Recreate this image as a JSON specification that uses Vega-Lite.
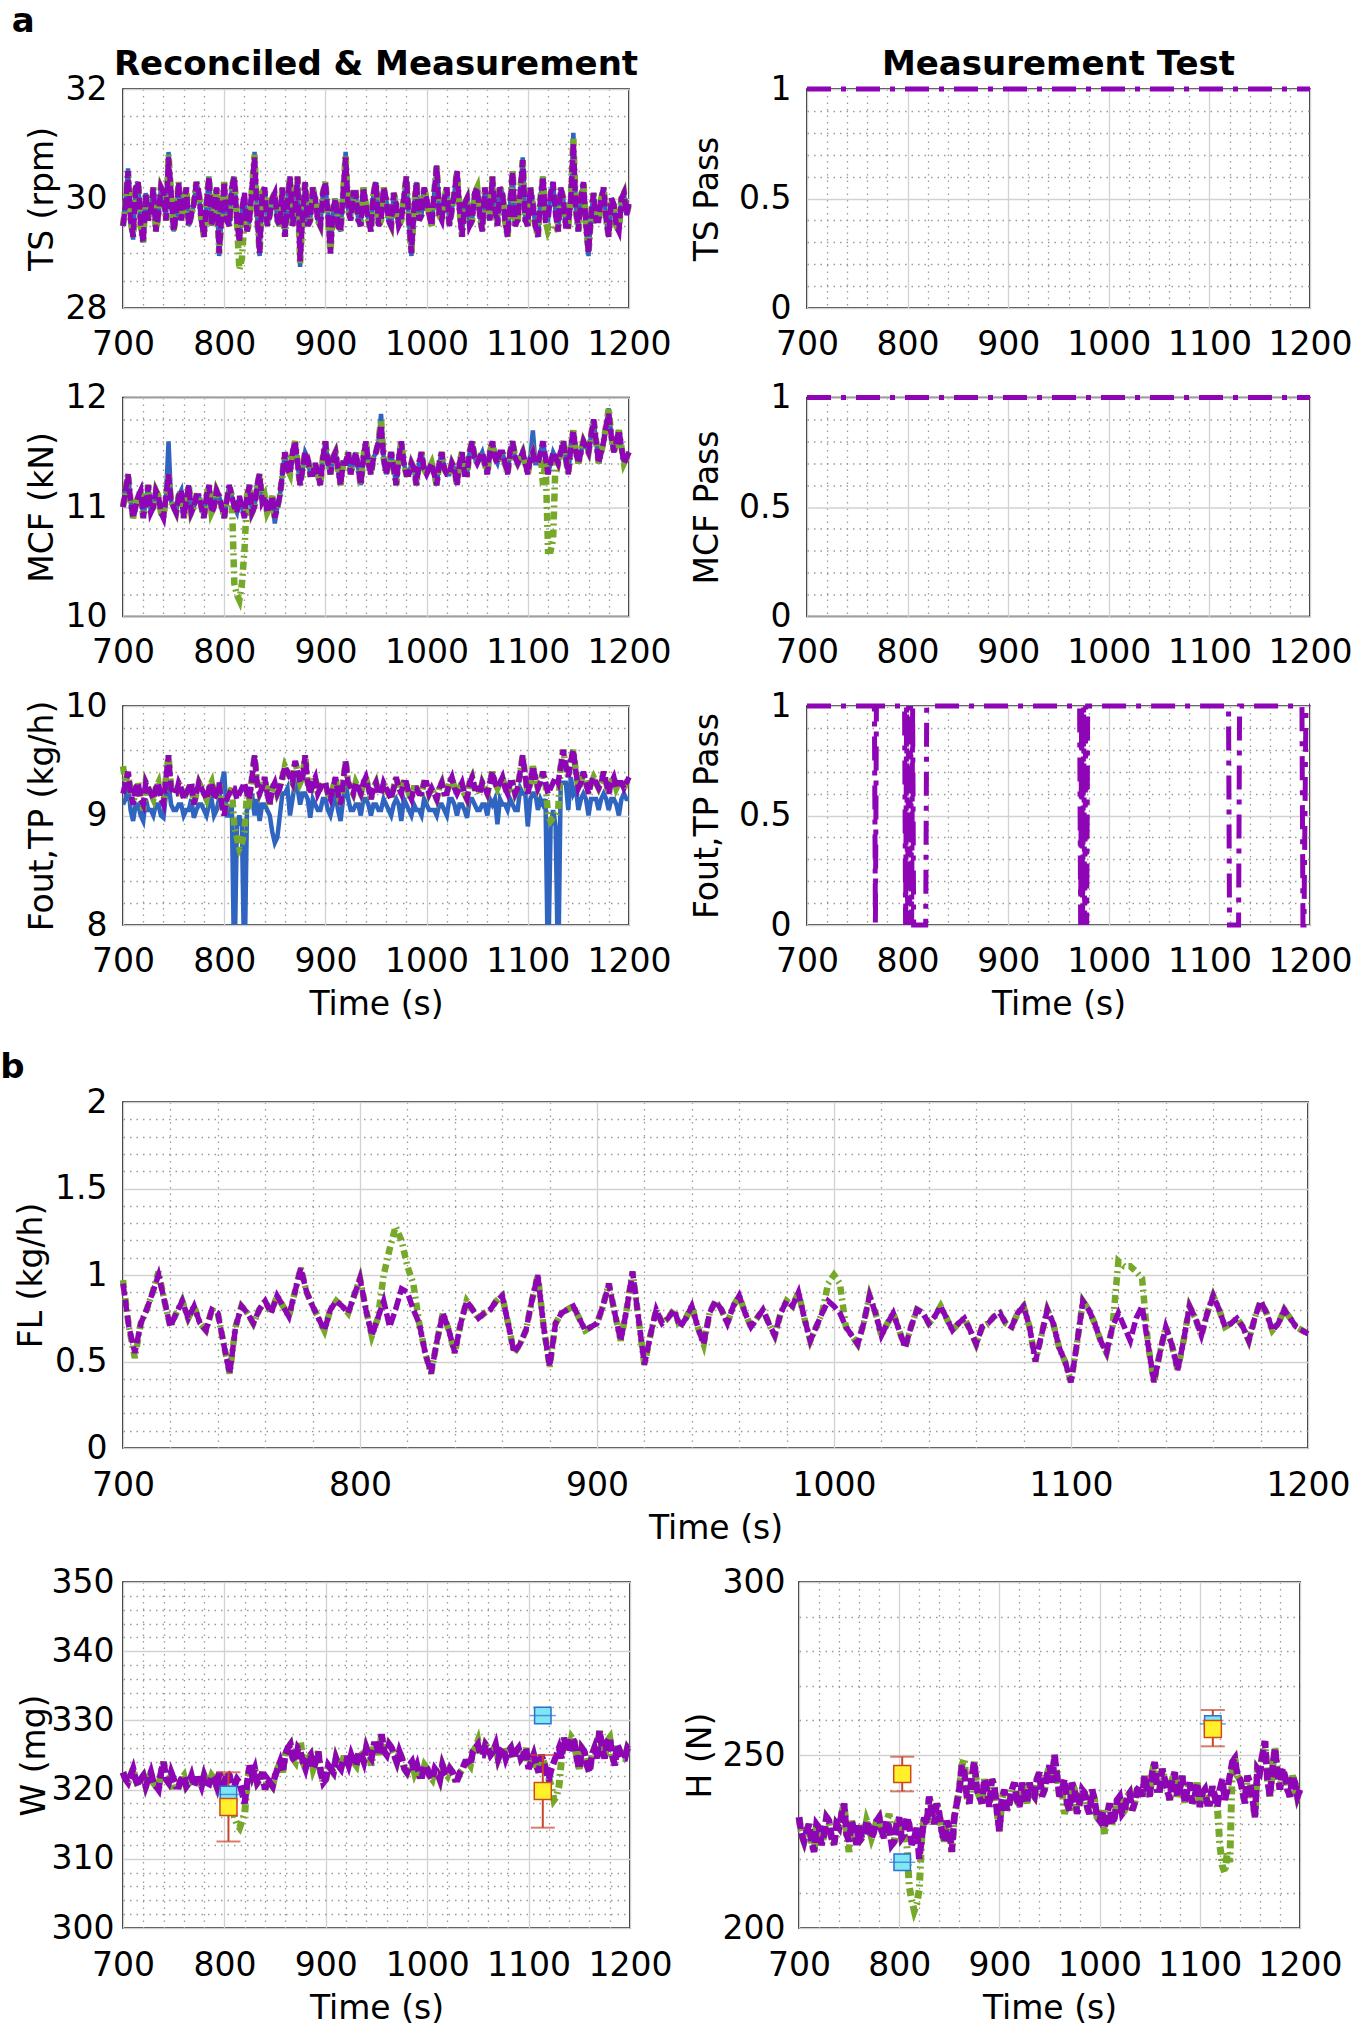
{
"$schema": "https://vega.github.io/schema/vega-lite/v6.json",
"padding": {"left": 0, "top": 4, "right": 0, "bottom": 0},
"spacing": 29,
"datasets": {
"ts": [
{"t":700,"m":29.5,"g":29.5,"r":29.5},{"t":705,"m":30.55,"g":30.5,"r":30.5},{"t":710,"m":29.25,"g":29.3,"r":29.3},{"t":715,"m":30.3,"g":30.3,"r":30.3},{"t":720,"m":29.2,"g":29.2,"r":29.2},{"t":725,"m":29.6,"g":29.6,"r":29.6},{"t":730,"m":30.2,"g":30.2,"r":30.2},{"t":735,"m":29.7,"g":29.7,"r":29.7},{"t":740,"m":30.1,"g":30.1,"r":30.1},{"t":745,"m":30.85,"g":30.8,"r":30.75},
{"t":750,"m":29.4,"g":29.4,"r":29.4},{"t":755,"m":30.3,"g":30.3,"r":30.3},{"t":760,"m":29.9,"g":29.8,"r":29.9},{"t":765,"m":29.5,"g":29.5,"r":29.5},{"t":770,"m":29.9,"g":29.9,"r":29.9},{"t":775,"m":30.1,"g":30.1,"r":30.1},{"t":780,"m":29.3,"g":29.3,"r":29.3},{"t":785,"m":30.4,"g":30.4,"r":30.4},{"t":790,"m":29.8,"g":29.8,"r":29.8},{"t":795,"m":28.95,"g":29.0,"r":29.0},
{"t":800,"m":30.3,"g":30.3,"r":30.3},{"t":805,"m":29.5,"g":29.5,"r":29.5},{"t":810,"m":30.4,"g":30.4,"r":30.4},{"t":815,"m":29.2,"g":28.7,"r":29.2},{"t":820,"m":30.1,"g":29.6,"r":30.1},{"t":825,"m":29.6,"g":29.6,"r":29.6},{"t":830,"m":30.85,"g":30.8,"r":30.75},{"t":835,"m":28.95,"g":29.0,"r":29.0},{"t":840,"m":30.2,"g":30.2,"r":30.2},{"t":845,"m":29.7,"g":29.7,"r":29.7},
{"t":850,"m":30.1,"g":30.1,"r":30.1},{"t":855,"m":29.5,"g":29.5,"r":29.5},{"t":860,"m":29.3,"g":29.3,"r":29.3},{"t":865,"m":30.4,"g":30.4,"r":30.4},{"t":870,"m":29.8,"g":29.8,"r":29.8},{"t":875,"m":28.75,"g":28.8,"r":28.85},{"t":880,"m":30.3,"g":30.3,"r":30.3},{"t":885,"m":29.6,"g":29.6,"r":29.6},{"t":890,"m":30.0,"g":30.0,"r":30.0},{"t":895,"m":29.5,"g":29.5,"r":29.5},
{"t":900,"m":30.3,"g":30.3,"r":30.3},{"t":905,"m":29.0,"g":29.0,"r":29.0},{"t":910,"m":30.0,"g":30.0,"r":30.0},{"t":915,"m":29.4,"g":29.4,"r":29.4},{"t":920,"m":30.85,"g":30.8,"r":30.75},{"t":925,"m":29.6,"g":29.6,"r":29.6},{"t":930,"m":30.1,"g":30.1,"r":30.1},{"t":935,"m":29.5,"g":29.5,"r":29.5},{"t":940,"m":29.9,"g":29.9,"r":29.9},{"t":945,"m":29.4,"g":29.4,"r":29.4},
{"t":950,"m":30.3,"g":30.3,"r":30.3},{"t":955,"m":29.6,"g":29.6,"r":29.6},{"t":960,"m":30.0,"g":30.0,"r":30.0},{"t":965,"m":29.5,"g":29.5,"r":29.5},{"t":970,"m":29.9,"g":29.9,"r":29.9},{"t":975,"m":29.6,"g":29.6,"r":29.6},{"t":980,"m":30.4,"g":30.4,"r":30.4},{"t":985,"m":28.95,"g":29.0,"r":29.0},{"t":990,"m":30.3,"g":30.3,"r":30.3},{"t":995,"m":29.7,"g":29.7,"r":29.7},
{"t":1000,"m":30.0,"g":30.0,"r":30.0},{"t":1005,"m":29.5,"g":29.5,"r":29.5},{"t":1010,"m":30.6,"g":30.6,"r":30.6},{"t":1015,"m":29.6,"g":29.6,"r":29.6},{"t":1020,"m":30.2,"g":30.2,"r":30.2},{"t":1025,"m":29.8,"g":29.8,"r":29.8},{"t":1030,"m":30.5,"g":30.5,"r":30.5},{"t":1035,"m":29.3,"g":29.3,"r":29.3},{"t":1040,"m":30.0,"g":30.0,"r":30.0},{"t":1045,"m":29.6,"g":29.6,"r":29.6},
{"t":1050,"m":30.2,"g":30.2,"r":30.2},{"t":1055,"m":29.4,"g":29.4,"r":29.4},{"t":1060,"m":29.9,"g":29.9,"r":29.9},{"t":1065,"m":30.4,"g":30.4,"r":30.4},{"t":1070,"m":29.5,"g":29.5,"r":29.5},{"t":1075,"m":30.1,"g":30.1,"r":30.1},{"t":1080,"m":29.3,"g":29.3,"r":29.3},{"t":1085,"m":30.5,"g":30.5,"r":30.5},{"t":1090,"m":29.6,"g":29.6,"r":29.6},{"t":1095,"m":30.75,"g":30.7,"r":30.7},
{"t":1100,"m":29.5,"g":29.5,"r":29.5},{"t":1105,"m":29.9,"g":29.9,"r":29.9},{"t":1110,"m":29.3,"g":29.3,"r":29.3},{"t":1115,"m":30.4,"g":30.4,"r":30.4},{"t":1120,"m":29.6,"g":29.4,"r":29.6},{"t":1125,"m":30.3,"g":29.5,"r":30.3},{"t":1130,"m":29.4,"g":29.4,"r":29.4},{"t":1135,"m":30.0,"g":30.0,"r":30.0},{"t":1140,"m":29.5,"g":29.5,"r":29.5},{"t":1145,"m":31.2,"g":31.1,"r":31.0},
{"t":1150,"m":29.4,"g":29.4,"r":29.4},{"t":1155,"m":30.3,"g":30.3,"r":30.3},{"t":1160,"m":28.95,"g":29.0,"r":29.0},{"t":1165,"m":30.1,"g":30.1,"r":30.1},{"t":1170,"m":29.6,"g":29.6,"r":29.6},{"t":1175,"m":30.2,"g":30.2,"r":30.2},{"t":1180,"m":29.3,"g":29.3,"r":29.3},{"t":1185,"m":29.9,"g":29.9,"r":29.9},{"t":1190,"m":29.4,"g":29.4,"r":29.4},{"t":1195,"m":30.1,"g":30.1,"r":30.1},{"t":1200,"m":29.9,"g":29.9,"r":29.9},
{"t":702.5,"m":29.9,"g":29.9,"r":29.9},{"t":707.5,"m":29.6,"g":29.6,"r":29.6},{"t":712.5,"m":30.2,"g":30.2,"r":30.2},{"t":717.5,"m":29.5,"g":29.5,"r":29.5},{"t":722.5,"m":30.1,"g":30.1,"r":30.1},{"t":727.5,"m":29.8,"g":29.8,"r":29.8},{"t":732.5,"m":29.4,"g":29.4,"r":29.4},{"t":737.5,"m":30.2,"g":30.2,"r":30.2},{"t":742.5,"m":29.6,"g":29.6,"r":29.6},{"t":747.5,"m":30.1,"g":30.1,"r":30.1},
{"t":752.5,"m":29.7,"g":29.7,"r":29.7},{"t":757.5,"m":29.6,"g":29.6,"r":29.6},{"t":762.5,"m":30.2,"g":30.2,"r":30.2},{"t":767.5,"m":29.7,"g":29.7,"r":29.7},{"t":772.5,"m":30.3,"g":30.3,"r":30.3},{"t":777.5,"m":29.6,"g":29.6,"r":29.6},{"t":782.5,"m":29.9,"g":29.9,"r":29.9},{"t":787.5,"m":29.5,"g":29.5,"r":29.5},{"t":792.5,"m":30.2,"g":30.2,"r":30.2},{"t":797.5,"m":29.7,"g":29.7,"r":29.7},
{"t":802.5,"m":29.6,"g":29.6,"r":29.6},{"t":807.5,"m":30.2,"g":30.2,"r":30.2},{"t":812.5,"m":29.6,"g":29.6,"r":29.6},{"t":817.5,"m":29.8,"g":28.9,"r":29.8},{"t":822.5,"m":29.4,"g":29.4,"r":29.4},{"t":827.5,"m":30.2,"g":30.2,"r":30.2},{"t":832.5,"m":29.7,"g":29.7,"r":29.7},{"t":837.5,"m":30.1,"g":30.1,"r":30.1},{"t":842.5,"m":29.5,"g":29.5,"r":29.5},{"t":847.5,"m":30.0,"g":30.0,"r":30.0},
{"t":852.5,"m":29.6,"g":29.6,"r":29.6},{"t":857.5,"m":30.2,"g":30.2,"r":30.2},{"t":862.5,"m":29.9,"g":29.9,"r":29.9},{"t":867.5,"m":29.5,"g":29.5,"r":29.5},{"t":872.5,"m":30.4,"g":30.4,"r":30.4},{"t":877.5,"m":29.7,"g":29.7,"r":29.7},{"t":882.5,"m":29.5,"g":29.5,"r":29.5},{"t":887.5,"m":30.2,"g":30.2,"r":30.2},{"t":892.5,"m":29.6,"g":29.6,"r":29.6},{"t":897.5,"m":30.1,"g":30.1,"r":30.1},
{"t":902.5,"m":29.7,"g":29.7,"r":29.7},{"t":907.5,"m":29.8,"g":29.8,"r":29.8},{"t":912.5,"m":29.5,"g":29.5,"r":29.5},{"t":917.5,"m":30.1,"g":30.1,"r":30.1},{"t":922.5,"m":29.8,"g":29.8,"r":29.8},{"t":927.5,"m":30.1,"g":30.1,"r":30.1},{"t":932.5,"m":29.6,"g":29.6,"r":29.6},{"t":937.5,"m":30.2,"g":30.2,"r":30.2},{"t":942.5,"m":29.6,"g":29.6,"r":29.6},{"t":947.5,"m":30.1,"g":30.1,"r":30.1},
{"t":952.5,"m":29.5,"g":29.5,"r":29.5},{"t":957.5,"m":30.2,"g":30.2,"r":30.2},{"t":962.5,"m":29.6,"g":29.6,"r":29.6},{"t":967.5,"m":30.1,"g":30.1,"r":30.1},{"t":972.5,"m":29.5,"g":29.5,"r":29.5},{"t":977.5,"m":30.0,"g":30.0,"r":30.0},{"t":982.5,"m":29.6,"g":29.6,"r":29.6},{"t":987.5,"m":29.8,"g":29.8,"r":29.8},{"t":992.5,"m":29.6,"g":29.6,"r":29.6},{"t":997.5,"m":30.2,"g":30.2,"r":30.2},
{"t":1002.5,"m":29.7,"g":29.7,"r":29.7},{"t":1007.5,"m":30.1,"g":30.1,"r":30.1},{"t":1012.5,"m":29.7,"g":29.7,"r":29.7},{"t":1017.5,"m":30.0,"g":30.0,"r":30.0},{"t":1022.5,"m":29.5,"g":29.5,"r":29.5},{"t":1027.5,"m":30.1,"g":30.1,"r":30.1},{"t":1032.5,"m":29.8,"g":29.8,"r":29.8},{"t":1037.5,"m":29.9,"g":29.9,"r":29.9},{"t":1042.5,"m":29.5,"g":29.5,"r":29.5},{"t":1047.5,"m":30.1,"g":30.1,"r":30.1},
{"t":1052.5,"m":29.7,"g":29.7,"r":29.7},{"t":1057.5,"m":30.2,"g":30.2,"r":30.2},{"t":1062.5,"m":29.6,"g":29.6,"r":29.6},{"t":1067.5,"m":29.8,"g":29.8,"r":29.8},{"t":1072.5,"m":30.2,"g":30.2,"r":30.2},{"t":1077.5,"m":29.6,"g":29.6,"r":29.6},{"t":1082.5,"m":29.9,"g":29.9,"r":29.9},{"t":1087.5,"m":29.5,"g":29.5,"r":29.5},{"t":1092.5,"m":30.1,"g":30.1,"r":30.1},{"t":1097.5,"m":29.6,"g":29.6,"r":29.6},
{"t":1102.5,"m":30.2,"g":30.2,"r":30.2},{"t":1107.5,"m":29.5,"g":29.5,"r":29.5},{"t":1112.5,"m":30.0,"g":30.0,"r":30.0},{"t":1117.5,"m":29.6,"g":29.6,"r":29.6},{"t":1122.5,"m":30.1,"g":29.5,"r":30.1},{"t":1127.5,"m":29.7,"g":29.5,"r":29.7},{"t":1132.5,"m":30.2,"g":30.2,"r":30.2},{"t":1137.5,"m":29.5,"g":29.5,"r":29.5},{"t":1142.5,"m":30.0,"g":30.0,"r":30.0},{"t":1147.5,"m":29.8,"g":29.8,"r":29.8},
{"t":1152.5,"m":30.0,"g":30.0,"r":30.0},{"t":1157.5,"m":29.5,"g":29.5,"r":29.5},{"t":1162.5,"m":29.7,"g":29.7,"r":29.7},{"t":1167.5,"m":29.6,"g":29.6,"r":29.6},{"t":1172.5,"m":30.0,"g":30.0,"r":30.0},{"t":1177.5,"m":29.6,"g":29.6,"r":29.6},{"t":1182.5,"m":30.0,"g":30.0,"r":30.0},{"t":1187.5,"m":29.5,"g":29.5,"r":29.5},{"t":1192.5,"m":30.0,"g":30.0,"r":30.0},{"t":1197.5,"m":29.7,"g":29.7,"r":29.7}
],
"mcf": [
{"t":700,"m":11.0,"g":11.0,"r":11.0},{"t":705,"m":11.3,"g":11.3,"r":11.3},{"t":710,"m":10.9,"g":10.9,"r":10.9},{"t":715,"m":11.1,"g":11.1,"r":11.1},{"t":720,"m":10.9,"g":10.9,"r":10.9},{"t":725,"m":11.2,"g":11.2,"r":11.2},{"t":730,"m":11.0,"g":11.0,"r":11.0},{"t":735,"m":11.1,"g":11.1,"r":11.1},{"t":740,"m":10.9,"g":10.9,"r":10.9},{"t":745,"m":11.6,"g":11.3,"r":11.3},
{"t":750,"m":11.0,"g":11.0,"r":11.0},{"t":755,"m":11.1,"g":11.1,"r":11.1},{"t":760,"m":10.9,"g":10.9,"r":10.9},{"t":765,"m":11.2,"g":11.2,"r":11.2},{"t":770,"m":11.0,"g":11.0,"r":11.0},{"t":775,"m":11.1,"g":11.1,"r":11.1},{"t":780,"m":10.9,"g":10.9,"r":10.9},{"t":785,"m":11.2,"g":11.2,"r":11.2},{"t":790,"m":11.0,"g":11.0,"r":11.0},{"t":795,"m":11.1,"g":11.1,"r":11.1},
{"t":800,"m":10.9,"g":10.9,"r":10.9},{"t":805,"m":11.2,"g":11.2,"r":11.2},{"t":810,"m":11.0,"g":10.3,"r":11.0},{"t":815,"m":11.1,"g":10.15,"r":11.1},{"t":820,"m":10.9,"g":10.6,"r":10.9},{"t":825,"m":11.2,"g":11.2,"r":11.2},{"t":830,"m":11.0,"g":11.0,"r":11.0},{"t":835,"m":11.3,"g":11.3,"r":11.3},{"t":840,"m":11.1,"g":11.1,"r":11.1},{"t":845,"m":11.0,"g":11.0,"r":11.0},
{"t":850,"m":10.85,"g":10.9,"r":10.9},{"t":855,"m":11.1,"g":11.1,"r":11.1},{"t":860,"m":11.5,"g":11.5,"r":11.5},{"t":865,"m":11.3,"g":11.3,"r":11.3},{"t":870,"m":11.6,"g":11.6,"r":11.6},{"t":875,"m":11.2,"g":11.2,"r":11.2},{"t":880,"m":11.5,"g":11.5,"r":11.5},{"t":885,"m":11.3,"g":11.3,"r":11.3},{"t":890,"m":11.4,"g":11.4,"r":11.4},{"t":895,"m":11.2,"g":11.2,"r":11.2},
{"t":900,"m":11.6,"g":11.6,"r":11.6},{"t":905,"m":11.3,"g":11.3,"r":11.3},{"t":910,"m":11.5,"g":11.5,"r":11.5},{"t":915,"m":11.2,"g":11.2,"r":11.2},{"t":920,"m":11.4,"g":11.4,"r":11.4},{"t":925,"m":11.3,"g":11.3,"r":11.3},{"t":930,"m":11.5,"g":11.5,"r":11.5},{"t":935,"m":11.2,"g":11.2,"r":11.2},{"t":940,"m":11.6,"g":11.6,"r":11.6},{"t":945,"m":11.3,"g":11.3,"r":11.3},
{"t":950,"m":11.5,"g":11.5,"r":11.5},{"t":955,"m":11.85,"g":11.8,"r":11.75},{"t":960,"m":11.3,"g":11.3,"r":11.3},{"t":965,"m":11.5,"g":11.5,"r":11.5},{"t":970,"m":11.2,"g":11.2,"r":11.2},{"t":975,"m":11.6,"g":11.6,"r":11.6},{"t":980,"m":11.3,"g":11.3,"r":11.3},{"t":985,"m":11.4,"g":11.4,"r":11.4},{"t":990,"m":11.2,"g":11.2,"r":11.2},{"t":995,"m":11.5,"g":11.5,"r":11.5},
{"t":1000,"m":11.3,"g":11.3,"r":11.3},{"t":1005,"m":11.4,"g":11.4,"r":11.4},{"t":1010,"m":11.2,"g":11.2,"r":11.2},{"t":1015,"m":11.5,"g":11.5,"r":11.5},{"t":1020,"m":11.3,"g":11.3,"r":11.3},{"t":1025,"m":11.4,"g":11.4,"r":11.4},{"t":1030,"m":11.2,"g":11.2,"r":11.2},{"t":1035,"m":11.5,"g":11.5,"r":11.5},{"t":1040,"m":11.3,"g":11.3,"r":11.3},{"t":1045,"m":11.6,"g":11.6,"r":11.6},
{"t":1050,"m":11.4,"g":11.4,"r":11.4},{"t":1055,"m":11.5,"g":11.5,"r":11.5},{"t":1060,"m":11.3,"g":11.3,"r":11.3},{"t":1065,"m":11.6,"g":11.6,"r":11.6},{"t":1070,"m":11.4,"g":11.4,"r":11.4},{"t":1075,"m":11.5,"g":11.5,"r":11.5},{"t":1080,"m":11.3,"g":11.3,"r":11.3},{"t":1085,"m":11.6,"g":11.6,"r":11.6},{"t":1090,"m":11.4,"g":11.4,"r":11.4},{"t":1095,"m":11.5,"g":11.5,"r":11.5},
{"t":1100,"m":11.3,"g":11.3,"r":11.3},{"t":1105,"m":11.7,"g":11.5,"r":11.5},{"t":1110,"m":11.4,"g":11.4,"r":11.4},{"t":1115,"m":11.6,"g":11.2,"r":11.6},{"t":1120,"m":11.3,"g":10.6,"r":11.3},{"t":1125,"m":11.5,"g":10.7,"r":11.5},{"t":1130,"m":11.4,"g":11.4,"r":11.4},{"t":1135,"m":11.6,"g":11.6,"r":11.6},{"t":1140,"m":11.3,"g":11.3,"r":11.3},{"t":1145,"m":11.7,"g":11.7,"r":11.7},
{"t":1150,"m":11.4,"g":11.4,"r":11.4},{"t":1155,"m":11.6,"g":11.6,"r":11.6},{"t":1160,"m":11.5,"g":11.5,"r":11.5},{"t":1165,"m":11.8,"g":11.8,"r":11.8},{"t":1170,"m":11.4,"g":11.4,"r":11.4},{"t":1175,"m":11.6,"g":11.6,"r":11.6},{"t":1180,"m":11.9,"g":11.9,"r":11.85},{"t":1185,"m":11.5,"g":11.5,"r":11.5},{"t":1190,"m":11.7,"g":11.7,"r":11.7},{"t":1195,"m":11.4,"g":11.4,"r":11.4},{"t":1200,"m":11.5,"g":11.5,"r":11.5},
{"t":702.5,"m":11.15,"g":11.15,"r":11.15},{"t":707.5,"m":11.05,"g":11.05,"r":11.05},{"t":712.5,"m":11.0,"g":11.0,"r":11.0},{"t":717.5,"m":11.15,"g":11.15,"r":11.15},{"t":722.5,"m":11.05,"g":11.05,"r":11.05},{"t":727.5,"m":10.95,"g":10.95,"r":10.95},{"t":732.5,"m":11.15,"g":11.15,"r":11.15},{"t":737.5,"m":10.95,"g":10.95,"r":10.95},{"t":742.5,"m":11.1,"g":11.1,"r":11.1},{"t":747.5,"m":11.05,"g":11.05,"r":11.05},
{"t":752.5,"m":10.95,"g":10.95,"r":10.95},{"t":757.5,"m":11.15,"g":11.15,"r":11.15},{"t":762.5,"m":11.05,"g":11.05,"r":11.05},{"t":767.5,"m":10.95,"g":10.95,"r":10.95},{"t":772.5,"m":11.1,"g":11.1,"r":11.1},{"t":777.5,"m":11.0,"g":11.0,"r":11.0},{"t":782.5,"m":11.1,"g":11.1,"r":11.1},{"t":787.5,"m":10.95,"g":10.95,"r":10.95},{"t":792.5,"m":11.15,"g":11.15,"r":11.15},{"t":797.5,"m":11.0,"g":11.0,"r":11.0},
{"t":802.5,"m":11.05,"g":11.05,"r":11.05},{"t":807.5,"m":11.1,"g":11.1,"r":11.1},{"t":812.5,"m":10.95,"g":10.2,"r":10.95},{"t":817.5,"m":11.0,"g":10.3,"r":11.0},{"t":822.5,"m":11.1,"g":11.1,"r":11.1},{"t":827.5,"m":10.95,"g":10.95,"r":10.95},{"t":832.5,"m":11.2,"g":11.2,"r":11.2},{"t":837.5,"m":11.05,"g":11.05,"r":11.05},{"t":842.5,"m":10.95,"g":10.95,"r":10.95},{"t":847.5,"m":11.1,"g":11.1,"r":11.1},
{"t":852.5,"m":11.0,"g":11.0,"r":11.0},{"t":857.5,"m":11.3,"g":11.3,"r":11.3},{"t":862.5,"m":11.35,"g":11.35,"r":11.35},{"t":867.5,"m":11.5,"g":11.5,"r":11.5},{"t":872.5,"m":11.4,"g":11.4,"r":11.4},{"t":877.5,"m":11.35,"g":11.35,"r":11.35},{"t":882.5,"m":11.45,"g":11.45,"r":11.45},{"t":887.5,"m":11.3,"g":11.3,"r":11.3},{"t":892.5,"m":11.3,"g":11.3,"r":11.3},{"t":897.5,"m":11.45,"g":11.45,"r":11.45},
{"t":902.5,"m":11.4,"g":11.4,"r":11.4},{"t":907.5,"m":11.45,"g":11.45,"r":11.45},{"t":912.5,"m":11.35,"g":11.35,"r":11.35},{"t":917.5,"m":11.4,"g":11.4,"r":11.4},{"t":922.5,"m":11.5,"g":11.5,"r":11.5},{"t":927.5,"m":11.4,"g":11.4,"r":11.4},{"t":932.5,"m":11.35,"g":11.35,"r":11.35},{"t":937.5,"m":11.45,"g":11.45,"r":11.45},{"t":942.5,"m":11.4,"g":11.4,"r":11.4},{"t":947.5,"m":11.45,"g":11.45,"r":11.45},
{"t":952.5,"m":11.6,"g":11.6,"r":11.6},{"t":957.5,"m":11.45,"g":11.45,"r":11.45},{"t":962.5,"m":11.4,"g":11.4,"r":11.4},{"t":967.5,"m":11.35,"g":11.35,"r":11.35},{"t":972.5,"m":11.45,"g":11.45,"r":11.45},{"t":977.5,"m":11.4,"g":11.4,"r":11.4},{"t":982.5,"m":11.3,"g":11.3,"r":11.3},{"t":987.5,"m":11.35,"g":11.35,"r":11.35},{"t":992.5,"m":11.4,"g":11.4,"r":11.4},{"t":997.5,"m":11.35,"g":11.35,"r":11.35},
{"t":1002.5,"m":11.35,"g":11.35,"r":11.35},{"t":1007.5,"m":11.3,"g":11.3,"r":11.3},{"t":1012.5,"m":11.4,"g":11.4,"r":11.4},{"t":1017.5,"m":11.35,"g":11.35,"r":11.35},{"t":1022.5,"m":11.3,"g":11.3,"r":11.3},{"t":1027.5,"m":11.35,"g":11.35,"r":11.35},{"t":1032.5,"m":11.4,"g":11.4,"r":11.4},{"t":1037.5,"m":11.3,"g":11.3,"r":11.3},{"t":1042.5,"m":11.5,"g":11.5,"r":11.5},{"t":1047.5,"m":11.45,"g":11.45,"r":11.45},
{"t":1052.5,"m":11.45,"g":11.45,"r":11.45},{"t":1057.5,"m":11.4,"g":11.4,"r":11.4},{"t":1062.5,"m":11.5,"g":11.5,"r":11.5},{"t":1067.5,"m":11.45,"g":11.45,"r":11.45},{"t":1072.5,"m":11.5,"g":11.5,"r":11.5},{"t":1077.5,"m":11.4,"g":11.4,"r":11.4},{"t":1082.5,"m":11.5,"g":11.5,"r":11.5},{"t":1087.5,"m":11.45,"g":11.45,"r":11.45},{"t":1092.5,"m":11.45,"g":11.45,"r":11.45},{"t":1097.5,"m":11.4,"g":11.4,"r":11.4},
{"t":1102.5,"m":11.45,"g":11.45,"r":11.45},{"t":1107.5,"m":11.4,"g":11.4,"r":11.4},{"t":1112.5,"m":11.5,"g":11.5,"r":11.5},{"t":1117.5,"m":11.45,"g":11.45,"r":11.45},{"t":1122.5,"m":11.4,"g":10.6,"r":11.4},{"t":1127.5,"m":11.45,"g":11.45,"r":11.45},{"t":1132.5,"m":11.5,"g":11.5,"r":11.5},{"t":1137.5,"m":11.45,"g":11.45,"r":11.45},{"t":1142.5,"m":11.55,"g":11.55,"r":11.55},{"t":1147.5,"m":11.5,"g":11.5,"r":11.5},
{"t":1152.5,"m":11.5,"g":11.5,"r":11.5},{"t":1157.5,"m":11.55,"g":11.55,"r":11.55},{"t":1162.5,"m":11.65,"g":11.65,"r":11.65},{"t":1167.5,"m":11.6,"g":11.6,"r":11.6},{"t":1172.5,"m":11.5,"g":11.5,"r":11.5},{"t":1177.5,"m":11.75,"g":11.75,"r":11.75},{"t":1182.5,"m":11.65,"g":11.65,"r":11.65},{"t":1187.5,"m":11.6,"g":11.6,"r":11.6},{"t":1192.5,"m":11.55,"g":11.55,"r":11.55},{"t":1197.5,"m":11.45,"g":11.45,"r":11.45}
],
"fo": [
{"t":700,"m":9.1,"g":9.45,"r":9.2},{"t":705,"m":9.3,"g":9.4,"r":9.4},{"t":710,"m":8.95,"g":9.1,"r":9.1},{"t":715,"m":9.1,"g":9.3,"r":9.3},{"t":720,"m":8.95,"g":9.05,"r":9.1},{"t":725,"m":9.05,"g":9.25,"r":9.25},{"t":730,"m":9.0,"g":9.15,"r":9.15},{"t":735,"m":9.1,"g":9.3,"r":9.3},{"t":740,"m":8.98,"g":9.1,"r":9.1},{"t":745,"m":9.3,"g":9.55,"r":9.55},
{"t":750,"m":9.05,"g":9.2,"r":9.2},{"t":755,"m":9.1,"g":9.3,"r":9.3},{"t":760,"m":9.0,"g":9.15,"r":9.15},{"t":765,"m":9.05,"g":9.25,"r":9.25},{"t":770,"m":8.98,"g":9.1,"r":9.1},{"t":775,"m":9.1,"g":9.3,"r":9.3},{"t":780,"m":9.05,"g":9.2,"r":9.2},{"t":785,"m":9.1,"g":9.25,"r":9.25},{"t":790,"m":9.0,"g":9.15,"r":9.15},{"t":795,"m":9.15,"g":9.3,"r":9.3},
{"t":800,"m":9.4,"g":9.0,"r":9.0},{"t":805,"m":9.0,"g":9.2,"r":9.2},{"t":810,"m":7.5,"g":8.9,"r":9.25},{"t":815,"m":9.0,"g":8.7,"r":9.2},{"t":820,"m":7.5,"g":8.85,"r":9.3},{"t":825,"m":9.1,"g":9.15,"r":9.15},{"t":830,"m":9.0,"g":9.55,"r":9.55},{"t":835,"m":8.95,"g":9.2,"r":9.2},{"t":840,"m":9.1,"g":9.35,"r":9.35},{"t":845,"m":9.0,"g":9.1,"r":9.1},
{"t":850,"m":8.75,"g":9.3,"r":9.3},{"t":855,"m":9.0,"g":9.25,"r":9.25},{"t":860,"m":9.2,"g":9.45,"r":9.45},{"t":865,"m":9.0,"g":9.35,"r":9.35},{"t":870,"m":9.3,"g":9.5,"r":9.5},{"t":875,"m":9.1,"g":9.3,"r":9.3},{"t":880,"m":9.2,"g":9.55,"r":9.55},{"t":885,"m":8.98,"g":9.2,"r":9.2},{"t":890,"m":9.1,"g":9.35,"r":9.35},{"t":895,"m":9.05,"g":9.25,"r":9.25},
{"t":900,"m":9.15,"g":9.3,"r":9.3},{"t":905,"m":9.0,"g":9.15,"r":9.15},{"t":910,"m":9.2,"g":9.35,"r":9.35},{"t":915,"m":8.95,"g":9.1,"r":9.1},{"t":920,"m":9.3,"g":9.5,"r":9.5},{"t":925,"m":9.05,"g":9.25,"r":9.25},{"t":930,"m":9.1,"g":9.3,"r":9.3},{"t":935,"m":9.0,"g":9.2,"r":9.2},{"t":940,"m":9.15,"g":9.35,"r":9.35},{"t":945,"m":9.0,"g":9.15,"r":9.15},
{"t":950,"m":9.1,"g":9.3,"r":9.3},{"t":955,"m":9.05,"g":9.2,"r":9.2},{"t":960,"m":9.1,"g":9.25,"r":9.25},{"t":965,"m":9.0,"g":9.15,"r":9.15},{"t":970,"m":9.15,"g":9.35,"r":9.35},{"t":975,"m":8.95,"g":9.2,"r":9.2},{"t":980,"m":9.1,"g":9.3,"r":9.3},{"t":985,"m":9.0,"g":9.15,"r":9.15},{"t":990,"m":9.05,"g":9.25,"r":9.25},{"t":995,"m":9.0,"g":9.2,"r":9.2},
{"t":1000,"m":9.1,"g":9.3,"r":9.3},{"t":1005,"m":9.05,"g":9.25,"r":9.25},{"t":1010,"m":9.0,"g":9.15,"r":9.15},{"t":1015,"m":9.1,"g":9.3,"r":9.3},{"t":1020,"m":9.0,"g":9.2,"r":9.2},{"t":1025,"m":9.15,"g":9.35,"r":9.35},{"t":1030,"m":9.0,"g":9.2,"r":9.2},{"t":1035,"m":9.1,"g":9.3,"r":9.3},{"t":1040,"m":8.98,"g":9.15,"r":9.15},{"t":1045,"m":9.15,"g":9.35,"r":9.35},
{"t":1050,"m":9.05,"g":9.25,"r":9.25},{"t":1055,"m":9.1,"g":9.3,"r":9.3},{"t":1060,"m":9.0,"g":9.2,"r":9.2},{"t":1065,"m":9.1,"g":9.4,"r":9.4},{"t":1070,"m":8.92,"g":9.25,"r":9.25},{"t":1075,"m":9.1,"g":9.35,"r":9.35},{"t":1080,"m":9.05,"g":9.2,"r":9.2},{"t":1085,"m":9.1,"g":9.3,"r":9.3},{"t":1090,"m":9.05,"g":9.25,"r":9.25},{"t":1095,"m":9.2,"g":9.55,"r":9.55},
{"t":1100,"m":8.9,"g":9.2,"r":9.2},{"t":1105,"m":9.2,"g":9.45,"r":9.45},{"t":1110,"m":9.05,"g":9.25,"r":9.25},{"t":1115,"m":9.1,"g":9.4,"r":9.4},{"t":1120,"m":7.5,"g":9.0,"r":9.2},{"t":1125,"m":9.05,"g":8.98,"r":9.3},{"t":1130,"m":7.5,"g":9.05,"r":9.3},{"t":1135,"m":9.3,"g":9.6,"r":9.6},{"t":1140,"m":9.05,"g":9.35,"r":9.35},{"t":1145,"m":9.2,"g":9.6,"r":9.6},
{"t":1150,"m":9.05,"g":9.25,"r":9.25},{"t":1155,"m":9.2,"g":9.4,"r":9.4},{"t":1160,"m":9.0,"g":9.2,"r":9.2},{"t":1165,"m":9.15,"g":9.35,"r":9.35},{"t":1170,"m":9.05,"g":9.25,"r":9.25},{"t":1175,"m":9.2,"g":9.4,"r":9.4},{"t":1180,"m":9.05,"g":9.2,"r":9.2},{"t":1185,"m":9.15,"g":9.35,"r":9.35},{"t":1190,"m":9.0,"g":9.3,"r":9.3},{"t":1195,"m":9.2,"g":9.25,"r":9.25},{"t":1200,"m":9.15,"g":9.35,"r":9.35},
{"t":702.5,"m":9.15,"g":9.3,"r":9.3},{"t":707.5,"m":9.05,"g":9.2,"r":9.2},{"t":712.5,"m":9.1,"g":9.25,"r":9.25},{"t":717.5,"m":9.0,"g":9.15,"r":9.15},{"t":722.5,"m":9.15,"g":9.3,"r":9.3},{"t":727.5,"m":9.05,"g":9.2,"r":9.2},{"t":732.5,"m":9.1,"g":9.25,"r":9.25},{"t":737.5,"m":9.0,"g":9.15,"r":9.15},{"t":742.5,"m":9.2,"g":9.35,"r":9.35},{"t":747.5,"m":9.1,"g":9.25,"r":9.25},
{"t":752.5,"m":9.05,"g":9.2,"r":9.2},{"t":757.5,"m":9.1,"g":9.25,"r":9.25},{"t":762.5,"m":9.05,"g":9.2,"r":9.2},{"t":767.5,"m":9.15,"g":9.3,"r":9.3},{"t":772.5,"m":9.05,"g":9.2,"r":9.2},{"t":777.5,"m":9.1,"g":9.25,"r":9.25},{"t":782.5,"m":9.0,"g":9.15,"r":9.15},{"t":787.5,"m":9.15,"g":9.3,"r":9.3},{"t":792.5,"m":9.05,"g":9.2,"r":9.2},{"t":797.5,"m":9.3,"g":9.1,"r":9.1},
{"t":802.5,"m":9.0,"g":9.15,"r":9.15},{"t":807.5,"m":9.1,"g":9.25,"r":9.25},{"t":812.5,"m":8.9,"g":8.8,"r":9.15},{"t":817.5,"m":8.9,"g":8.75,"r":9.25},{"t":822.5,"m":9.05,"g":9.2,"r":9.2},{"t":827.5,"m":9.2,"g":9.35,"r":9.35},{"t":832.5,"m":9.15,"g":9.3,"r":9.3},{"t":837.5,"m":9.1,"g":9.25,"r":9.25},{"t":842.5,"m":9.05,"g":9.2,"r":9.2},{"t":847.5,"m":8.85,"g":9.25,"r":9.25},
{"t":852.5,"m":8.8,"g":9.2,"r":9.2},{"t":857.5,"m":9.2,"g":9.35,"r":9.35},{"t":862.5,"m":9.25,"g":9.4,"r":9.4},{"t":867.5,"m":9.15,"g":9.3,"r":9.3},{"t":872.5,"m":9.25,"g":9.4,"r":9.4},{"t":877.5,"m":9.2,"g":9.35,"r":9.35},{"t":882.5,"m":9.15,"g":9.3,"r":9.3},{"t":887.5,"m":9.15,"g":9.3,"r":9.3},{"t":892.5,"m":9.05,"g":9.2,"r":9.2},{"t":897.5,"m":9.15,"g":9.3,"r":9.3},
{"t":902.5,"m":9.05,"g":9.2,"r":9.2},{"t":907.5,"m":9.1,"g":9.25,"r":9.25},{"t":912.5,"m":9.05,"g":9.2,"r":9.2},{"t":917.5,"m":9.15,"g":9.3,"r":9.3},{"t":922.5,"m":9.15,"g":9.3,"r":9.3},{"t":927.5,"m":9.05,"g":9.2,"r":9.2},{"t":932.5,"m":9.1,"g":9.25,"r":9.25},{"t":937.5,"m":9.15,"g":9.3,"r":9.3},{"t":942.5,"m":9.1,"g":9.25,"r":9.25},{"t":947.5,"m":9.1,"g":9.25,"r":9.25},
{"t":952.5,"m":9.05,"g":9.2,"r":9.2},{"t":957.5,"m":9.15,"g":9.3,"r":9.3},{"t":962.5,"m":9.05,"g":9.2,"r":9.2},{"t":967.5,"m":9.1,"g":9.25,"r":9.25},{"t":972.5,"m":9.1,"g":9.25,"r":9.25},{"t":977.5,"m":9.15,"g":9.3,"r":9.3},{"t":982.5,"m":9.05,"g":9.2,"r":9.2},{"t":987.5,"m":9.1,"g":9.25,"r":9.25},{"t":992.5,"m":9.05,"g":9.2,"r":9.2},{"t":997.5,"m":9.15,"g":9.3,"r":9.3},
{"t":1002.5,"m":9.05,"g":9.2,"r":9.2},{"t":1007.5,"m":9.05,"g":9.2,"r":9.2},{"t":1012.5,"m":9.1,"g":9.25,"r":9.25},{"t":1017.5,"m":9.05,"g":9.2,"r":9.2},{"t":1022.5,"m":9.15,"g":9.3,"r":9.3},{"t":1027.5,"m":9.1,"g":9.25,"r":9.25},{"t":1032.5,"m":9.1,"g":9.25,"r":9.25},{"t":1037.5,"m":9.05,"g":9.2,"r":9.2},{"t":1042.5,"m":9.15,"g":9.3,"r":9.3},{"t":1047.5,"m":9.1,"g":9.25,"r":9.25},
{"t":1052.5,"m":9.05,"g":9.2,"r":9.2},{"t":1057.5,"m":9.1,"g":9.25,"r":9.25},{"t":1062.5,"m":9.15,"g":9.3,"r":9.3},{"t":1067.5,"m":9.15,"g":9.3,"r":9.3},{"t":1072.5,"m":9.15,"g":9.3,"r":9.3},{"t":1077.5,"m":9.1,"g":9.25,"r":9.25},{"t":1082.5,"m":9.15,"g":9.3,"r":9.3},{"t":1087.5,"m":9.05,"g":9.2,"r":9.2},{"t":1092.5,"m":9.25,"g":9.4,"r":9.4},{"t":1097.5,"m":9.2,"g":9.35,"r":9.35},
{"t":1102.5,"m":9.15,"g":9.3,"r":9.3},{"t":1107.5,"m":9.2,"g":9.35,"r":9.35},{"t":1112.5,"m":9.15,"g":9.3,"r":9.3},{"t":1117.5,"m":9.15,"g":9.3,"r":9.3},{"t":1122.5,"m":8.9,"g":8.95,"r":9.25},{"t":1127.5,"m":8.9,"g":9.0,"r":9.35},{"t":1132.5,"m":9.3,"g":9.45,"r":9.45},{"t":1137.5,"m":9.3,"g":9.45,"r":9.45},{"t":1142.5,"m":9.35,"g":9.5,"r":9.5},{"t":1147.5,"m":9.25,"g":9.4,"r":9.4},
{"t":1152.5,"m":9.15,"g":9.3,"r":9.3},{"t":1157.5,"m":9.15,"g":9.3,"r":9.3},{"t":1162.5,"m":9.15,"g":9.3,"r":9.3},{"t":1167.5,"m":9.15,"g":9.3,"r":9.3},{"t":1172.5,"m":9.15,"g":9.3,"r":9.3},{"t":1177.5,"m":9.15,"g":9.3,"r":9.3},{"t":1182.5,"m":9.15,"g":9.3,"r":9.3},{"t":1187.5,"m":9.1,"g":9.25,"r":9.25},{"t":1192.5,"m":9.15,"g":9.3,"r":9.3},{"t":1197.5,"m":9.15,"g":9.3,"r":9.3}
],
"pass1": [{"t":700,"p":1},{"t":1200,"p":1}],
"passfo": [
{"t":700,"p":1},{"t":767,"p":1},{"t":768,"p":0},{"t":769,"p":1},{"t":797,"p":1},{"t":798,"p":0},{"t":799,"p":1},{"t":800,"p":0},{"t":801,"p":1},{"t":802,"p":0},{"t":803,"p":1},{"t":804,"p":0},{"t":805,"p":1},{"t":806,"p":0},{"t":818,"p":0},{"t":819,"p":1},
{"t":971,"p":1},{"t":972,"p":0},{"t":973,"p":1},{"t":974,"p":0},{"t":975,"p":1},{"t":976,"p":0},{"t":977,"p":1},{"t":978,"p":0},{"t":979,"p":1},
{"t":1119,"p":1},{"t":1120,"p":0},{"t":1129,"p":0},{"t":1130,"p":1},{"t":1192,"p":1},{"t":1193,"p":0},{"t":1194,"p":0},{"t":1196,"p":1},{"t":1200,"p":1}
],
"fl": [
{"t":700,"g":0.97,"r":0.95},{"t":705,"g":0.52,"r":0.55},{"t":710,"g":0.8,"r":0.8},{"t":715,"g":1.02,"r":1.0},{"t":720,"g":0.7,"r":0.7},{"t":725,"g":0.85,"r":0.85},{"t":730,"g":0.82,"r":0.82},{"t":735,"g":0.68,"r":0.68},{"t":740,"g":0.78,"r":0.78},{"t":745,"g":0.43,"r":0.43},
{"t":750,"g":0.82,"r":0.82},{"t":755,"g":0.72,"r":0.72},{"t":760,"g":0.85,"r":0.85},{"t":765,"g":0.88,"r":0.88},{"t":770,"g":0.76,"r":0.76},{"t":775,"g":1.04,"r":1.04},{"t":780,"g":0.82,"r":0.82},{"t":785,"g":0.68,"r":0.68},{"t":790,"g":0.85,"r":0.85},{"t":795,"g":0.78,"r":0.78},
{"t":800,"g":0.98,"r":0.98},{"t":805,"g":0.65,"r":0.65},{"t":810,"g":1.0,"r":0.85},{"t":815,"g":1.28,"r":0.8},{"t":820,"g":1.05,"r":0.9},{"t":825,"g":0.72,"r":0.72},{"t":830,"g":0.43,"r":0.43},{"t":835,"g":0.78,"r":0.78},{"t":840,"g":0.55,"r":0.55},{"t":845,"g":0.85,"r":0.85},
{"t":850,"g":0.75,"r":0.75},{"t":855,"g":0.8,"r":0.8},{"t":860,"g":0.88,"r":0.88},{"t":865,"g":0.55,"r":0.55},{"t":870,"g":0.68,"r":0.68},{"t":875,"g":1.0,"r":1.0},{"t":880,"g":0.47,"r":0.47},{"t":885,"g":0.78,"r":0.78},{"t":890,"g":0.82,"r":0.82},{"t":895,"g":0.68,"r":0.68},
{"t":900,"g":0.72,"r":0.72},{"t":905,"g":0.95,"r":0.95},{"t":910,"g":0.62,"r":0.62},{"t":915,"g":1.02,"r":1.02},{"t":920,"g":0.48,"r":0.48},{"t":925,"g":0.8,"r":0.8},{"t":930,"g":0.75,"r":0.75},{"t":935,"g":0.7,"r":0.7},{"t":940,"g":0.82,"r":0.82},{"t":945,"g":0.6,"r":0.6},
{"t":950,"g":0.85,"r":0.85},{"t":955,"g":0.72,"r":0.72},{"t":960,"g":0.88,"r":0.88},{"t":965,"g":0.7,"r":0.7},{"t":970,"g":0.8,"r":0.8},{"t":975,"g":0.65,"r":0.65},{"t":980,"g":0.85,"r":0.85},{"t":985,"g":0.9,"r":0.9},{"t":990,"g":0.62,"r":0.62},{"t":995,"g":0.78,"r":0.78},
{"t":1000,"g":1.0,"r":0.82},{"t":1005,"g":0.7,"r":0.7},{"t":1010,"g":0.6,"r":0.6},{"t":1015,"g":0.88,"r":0.88},{"t":1020,"g":0.65,"r":0.65},{"t":1025,"g":0.78,"r":0.78},{"t":1030,"g":0.58,"r":0.58},{"t":1035,"g":0.8,"r":0.8},{"t":1040,"g":0.72,"r":0.72},{"t":1045,"g":0.82,"r":0.82},
{"t":1050,"g":0.68,"r":0.68},{"t":1055,"g":0.75,"r":0.75},{"t":1060,"g":0.6,"r":0.6},{"t":1065,"g":0.72,"r":0.72},{"t":1070,"g":0.78,"r":0.78},{"t":1075,"g":0.7,"r":0.7},{"t":1080,"g":0.82,"r":0.82},{"t":1085,"g":0.5,"r":0.5},{"t":1090,"g":0.8,"r":0.8},{"t":1095,"g":0.58,"r":0.58},
{"t":1100,"g":0.38,"r":0.38},{"t":1105,"g":0.85,"r":0.85},{"t":1110,"g":0.72,"r":0.72},{"t":1115,"g":0.55,"r":0.55},{"t":1120,"g":1.08,"r":0.78},{"t":1125,"g":1.05,"r":0.62},{"t":1130,"g":0.98,"r":0.82},{"t":1135,"g":0.38,"r":0.38},{"t":1140,"g":0.7,"r":0.7},{"t":1145,"g":0.45,"r":0.45},
{"t":1150,"g":0.82,"r":0.82},{"t":1155,"g":0.65,"r":0.65},{"t":1160,"g":0.88,"r":0.88},{"t":1165,"g":0.7,"r":0.7},{"t":1170,"g":0.75,"r":0.75},{"t":1175,"g":0.62,"r":0.62},{"t":1180,"g":0.85,"r":0.85},{"t":1185,"g":0.68,"r":0.68},{"t":1190,"g":0.8,"r":0.8},{"t":1195,"g":0.7,"r":0.7},{"t":1200,"g":0.66,"r":0.66},
{"t":702.5,"g":0.7,"r":0.7},{"t":707.5,"g":0.72,"r":0.72},{"t":712.5,"g":0.9,"r":0.9},{"t":717.5,"g":0.85,"r":0.85},{"t":722.5,"g":0.78,"r":0.78},{"t":727.5,"g":0.75,"r":0.75},{"t":732.5,"g":0.72,"r":0.72},{"t":737.5,"g":0.8,"r":0.8},{"t":742.5,"g":0.6,"r":0.6},{"t":747.5,"g":0.7,"r":0.7},
{"t":752.5,"g":0.78,"r":0.78},{"t":757.5,"g":0.8,"r":0.8},{"t":762.5,"g":0.78,"r":0.78},{"t":767.5,"g":0.82,"r":0.82},{"t":772.5,"g":0.9,"r":0.9},{"t":777.5,"g":0.9,"r":0.9},{"t":782.5,"g":0.75,"r":0.75},{"t":787.5,"g":0.8,"r":0.8},{"t":792.5,"g":0.82,"r":0.82},{"t":797.5,"g":0.88,"r":0.88},
{"t":802.5,"g":0.8,"r":0.8},{"t":807.5,"g":0.75,"r":0.75},{"t":812.5,"g":1.15,"r":0.7},{"t":817.5,"g":1.2,"r":0.92},{"t":822.5,"g":0.95,"r":0.8},{"t":827.5,"g":0.55,"r":0.55},{"t":832.5,"g":0.62,"r":0.62},{"t":837.5,"g":0.68,"r":0.68},{"t":842.5,"g":0.72,"r":0.72},{"t":847.5,"g":0.8,"r":0.8},
{"t":852.5,"g":0.78,"r":0.78},{"t":857.5,"g":0.85,"r":0.85},{"t":862.5,"g":0.72,"r":0.72},{"t":867.5,"g":0.6,"r":0.6},{"t":872.5,"g":0.85,"r":0.85},{"t":877.5,"g":0.7,"r":0.7},{"t":882.5,"g":0.72,"r":0.72},{"t":887.5,"g":0.8,"r":0.8},{"t":892.5,"g":0.75,"r":0.75},{"t":897.5,"g":0.7,"r":0.7},
{"t":902.5,"g":0.82,"r":0.82},{"t":907.5,"g":0.78,"r":0.78},{"t":912.5,"g":0.8,"r":0.8},{"t":917.5,"g":0.75,"r":0.75},{"t":922.5,"g":0.65,"r":0.65},{"t":927.5,"g":0.72,"r":0.72},{"t":932.5,"g":0.8,"r":0.8},{"t":937.5,"g":0.75,"r":0.75},{"t":942.5,"g":0.7,"r":0.7},{"t":947.5,"g":0.78,"r":0.78},
{"t":952.5,"g":0.8,"r":0.8},{"t":957.5,"g":0.82,"r":0.82},{"t":962.5,"g":0.78,"r":0.78},{"t":967.5,"g":0.75,"r":0.75},{"t":972.5,"g":0.72,"r":0.72},{"t":977.5,"g":0.78,"r":0.78},{"t":982.5,"g":0.82,"r":0.82},{"t":987.5,"g":0.75,"r":0.75},{"t":992.5,"g":0.7,"r":0.7},{"t":997.5,"g":0.95,"r":0.85},
{"t":1002.5,"g":0.95,"r":0.78},{"t":1007.5,"g":0.65,"r":0.65},{"t":1012.5,"g":0.72,"r":0.72},{"t":1017.5,"g":0.78,"r":0.78},{"t":1022.5,"g":0.72,"r":0.72},{"t":1027.5,"g":0.68,"r":0.68},{"t":1032.5,"g":0.7,"r":0.7},{"t":1037.5,"g":0.78,"r":0.78},{"t":1042.5,"g":0.76,"r":0.76},{"t":1047.5,"g":0.75,"r":0.75},
{"t":1052.5,"g":0.72,"r":0.72},{"t":1057.5,"g":0.68,"r":0.68},{"t":1062.5,"g":0.7,"r":0.7},{"t":1067.5,"g":0.76,"r":0.76},{"t":1072.5,"g":0.72,"r":0.72},{"t":1077.5,"g":0.78,"r":0.78},{"t":1082.5,"g":0.7,"r":0.7},{"t":1087.5,"g":0.65,"r":0.65},{"t":1092.5,"g":0.72,"r":0.72},{"t":1097.5,"g":0.5,"r":0.5},
{"t":1102.5,"g":0.6,"r":0.6},{"t":1107.5,"g":0.8,"r":0.8},{"t":1112.5,"g":0.62,"r":0.62},{"t":1117.5,"g":0.7,"r":0.7},{"t":1122.5,"g":1.05,"r":0.7},{"t":1127.5,"g":1.02,"r":0.75},{"t":1132.5,"g":0.6,"r":0.6},{"t":1137.5,"g":0.55,"r":0.55},{"t":1142.5,"g":0.6,"r":0.6},{"t":1147.5,"g":0.62,"r":0.62},
{"t":1152.5,"g":0.75,"r":0.75},{"t":1157.5,"g":0.78,"r":0.78},{"t":1162.5,"g":0.8,"r":0.8},{"t":1167.5,"g":0.72,"r":0.72},{"t":1172.5,"g":0.7,"r":0.7},{"t":1177.5,"g":0.75,"r":0.75},{"t":1182.5,"g":0.78,"r":0.78},{"t":1187.5,"g":0.72,"r":0.72},{"t":1192.5,"g":0.75,"r":0.75},{"t":1197.5,"g":0.68,"r":0.68}
],
"w": [
{"t":700,"g":322.5,"r":322.5},{"t":705,"g":321,"r":321},{"t":710,"g":323,"r":323},{"t":715,"g":320.5,"r":320.5},{"t":720,"g":322,"r":322},{"t":725,"g":321.5,"r":321.5},{"t":730,"g":321,"r":321},{"t":735,"g":320,"r":320},{"t":740,"g":324,"r":324},{"t":745,"g":321,"r":321},
{"t":750,"g":320.5,"r":321.5},{"t":755,"g":320.5,"r":320.5},{"t":760,"g":322,"r":322},{"t":765,"g":321,"r":321},{"t":770,"g":320.5,"r":320.5},{"t":775,"g":321.5,"r":321.5},{"t":780,"g":322,"r":322},{"t":785,"g":320.8,"r":320.8},{"t":790,"g":321.5,"r":321.5},{"t":795,"g":322.5,"r":322.5},
{"t":800,"g":321,"r":321},{"t":805,"g":322,"r":322},{"t":810,"g":316,"r":320.5},{"t":815,"g":314.5,"r":321},{"t":820,"g":316.5,"r":318},{"t":825,"g":323.5,"r":323.5},{"t":830,"g":323,"r":323},{"t":835,"g":321.5,"r":321.5},{"t":840,"g":320,"r":320},{"t":845,"g":321,"r":321},
{"t":850,"g":322,"r":322},{"t":855,"g":324,"r":324},{"t":860,"g":325,"r":325},{"t":865,"g":326.5,"r":326.5},{"t":870,"g":324,"r":324},{"t":875,"g":327,"r":325.5},{"t":880,"g":323,"r":323},{"t":885,"g":325,"r":325},{"t":890,"g":324,"r":324},{"t":895,"g":322.5,"r":322.5},
{"t":900,"g":321.5,"r":321.5},{"t":905,"g":323,"r":323},{"t":910,"g":324.5,"r":324.5},{"t":915,"g":323,"r":323},{"t":920,"g":324.5,"r":324.5},{"t":925,"g":325,"r":325},{"t":930,"g":323.5,"r":323.5},{"t":935,"g":325,"r":325},{"t":940,"g":326,"r":326},{"t":945,"g":323.5,"r":324.5},
{"t":950,"g":326.5,"r":326.5},{"t":955,"g":328,"r":328},{"t":960,"g":325,"r":325},{"t":965,"g":326,"r":326},{"t":970,"g":324,"r":324},{"t":975,"g":324.5,"r":324.5},{"t":980,"g":322.5,"r":322.5},{"t":985,"g":324,"r":324},{"t":990,"g":323.5,"r":323.5},{"t":995,"g":322,"r":322},
{"t":1000,"g":323,"r":323},{"t":1005,"g":321.5,"r":321.5},{"t":1010,"g":322.5,"r":322.5},{"t":1015,"g":323.5,"r":323.5},{"t":1020,"g":322,"r":322},{"t":1025,"g":322.5,"r":322.5},{"t":1030,"g":321.5,"r":321.5},{"t":1035,"g":323,"r":323},{"t":1040,"g":324,"r":324},{"t":1045,"g":325.5,"r":325.5},
{"t":1050,"g":327,"r":326.5},{"t":1055,"g":325,"r":325},{"t":1060,"g":326,"r":326},{"t":1065,"g":325.5,"r":325.5},{"t":1070,"g":324.5,"r":324.5},{"t":1075,"g":326,"r":326},{"t":1080,"g":325.5,"r":325.5},{"t":1085,"g":324.5,"r":324.5},{"t":1090,"g":326,"r":326},{"t":1095,"g":325,"r":325},
{"t":1100,"g":323,"r":323},{"t":1105,"g":325,"r":325},{"t":1110,"g":322.5,"r":322.5},{"t":1115,"g":324,"r":324},{"t":1120,"g":321.5,"r":321.5},{"t":1125,"g":318.5,"r":324},{"t":1130,"g":320.5,"r":326},{"t":1135,"g":327.5,"r":327.5},{"t":1140,"g":325.5,"r":325.5},{"t":1145,"g":327,"r":327},
{"t":1150,"g":323,"r":323},{"t":1155,"g":325.5,"r":325.5},{"t":1160,"g":322.5,"r":322.5},{"t":1165,"g":326,"r":326},{"t":1170,"g":328.5,"r":328.5},{"t":1175,"g":324.5,"r":324.5},{"t":1180,"g":327.5,"r":327.5},{"t":1185,"g":323.5,"r":323.5},{"t":1190,"g":325.5,"r":325.5},{"t":1195,"g":324.5,"r":324.5},{"t":1200,"g":325.5,"r":325.5},
{"t":702.5,"g":321.5,"r":321.5},{"t":707.5,"g":322,"r":322},{"t":712.5,"g":321.5,"r":321.5},{"t":717.5,"g":321.5,"r":321.5},{"t":722.5,"g":320.5,"r":320.5},{"t":727.5,"g":322.5,"r":322.5},{"t":732.5,"g":320.5,"r":320.5},{"t":737.5,"g":322.5,"r":322.5},{"t":742.5,"g":321.5,"r":321.5},{"t":747.5,"g":322.5,"r":322.5},
{"t":752.5,"g":320.5,"r":320.5},{"t":757.5,"g":321.5,"r":321.5},{"t":762.5,"g":320.5,"r":320.5},{"t":767.5,"g":322,"r":322},{"t":772.5,"g":321.5,"r":321.5},{"t":777.5,"g":320.5,"r":320.5},{"t":782.5,"g":321,"r":321},{"t":787.5,"g":322,"r":322},{"t":792.5,"g":320.5,"r":320.5},{"t":797.5,"g":321,"r":321},
{"t":802.5,"g":322.5,"r":322.5},{"t":807.5,"g":318,"r":320.5},{"t":812.5,"g":315,"r":321.5},{"t":817.5,"g":315.5,"r":319.5},{"t":822.5,"g":321,"r":321},{"t":827.5,"g":322,"r":322},{"t":832.5,"g":321,"r":321},{"t":837.5,"g":322.5,"r":322.5},{"t":842.5,"g":321.5,"r":321.5},{"t":847.5,"g":320.5,"r":320.5},
{"t":852.5,"g":323,"r":323},{"t":857.5,"g":322.5,"r":322.5},{"t":862.5,"g":326,"r":326},{"t":867.5,"g":324.5,"r":324.5},{"t":872.5,"g":326,"r":326},{"t":877.5,"g":324,"r":324},{"t":882.5,"g":324.5,"r":324.5},{"t":887.5,"g":323,"r":323},{"t":892.5,"g":325.5,"r":325.5},{"t":897.5,"g":321,"r":321},
{"t":902.5,"g":323.5,"r":323.5},{"t":907.5,"g":322.5,"r":322.5},{"t":912.5,"g":323.5,"r":323.5},{"t":917.5,"g":324.5,"r":324.5},{"t":922.5,"g":323.5,"r":323.5},{"t":927.5,"g":324,"r":324},{"t":932.5,"g":325.5,"r":325.5},{"t":937.5,"g":324,"r":324},{"t":942.5,"g":325,"r":325},{"t":947.5,"g":326.5,"r":326.5},
{"t":952.5,"g":325,"r":325},{"t":957.5,"g":325.5,"r":325.5},{"t":962.5,"g":326.5,"r":326.5},{"t":967.5,"g":325,"r":325},{"t":972.5,"g":325.5,"r":325.5},{"t":977.5,"g":323,"r":323},{"t":982.5,"g":323.5,"r":323.5},{"t":987.5,"g":322.5,"r":322.5},{"t":992.5,"g":322,"r":322},{"t":997.5,"g":323.5,"r":323.5},
{"t":1002.5,"g":322,"r":322},{"t":1007.5,"g":323,"r":323},{"t":1012.5,"g":321.5,"r":321.5},{"t":1017.5,"g":322.5,"r":322.5},{"t":1022.5,"g":323,"r":323},{"t":1027.5,"g":321.5,"r":321.5},{"t":1032.5,"g":322.5,"r":322.5},{"t":1037.5,"g":324,"r":324},{"t":1042.5,"g":323.5,"r":323.5},{"t":1047.5,"g":326,"r":326},
{"t":1052.5,"g":325,"r":325},{"t":1057.5,"g":326.5,"r":326.5},{"t":1062.5,"g":325,"r":325},{"t":1067.5,"g":326.5,"r":326.5},{"t":1072.5,"g":325.5,"r":325.5},{"t":1077.5,"g":324.5,"r":324.5},{"t":1082.5,"g":326,"r":326},{"t":1087.5,"g":325.5,"r":325.5},{"t":1092.5,"g":324.5,"r":324.5},{"t":1097.5,"g":326,"r":326},
{"t":1102.5,"g":324,"r":324},{"t":1107.5,"g":323.5,"r":323.5},{"t":1112.5,"g":325,"r":325},{"t":1117.5,"g":322.5,"r":322.5},{"t":1122.5,"g":320.5,"r":323},{"t":1127.5,"g":319,"r":325},{"t":1132.5,"g":324.5,"r":324.5},{"t":1137.5,"g":326,"r":326},{"t":1142.5,"g":327.5,"r":327.5},{"t":1147.5,"g":324.5,"r":324.5},
{"t":1152.5,"g":326,"r":326},{"t":1157.5,"g":323.5,"r":323.5},{"t":1162.5,"g":325,"r":325},{"t":1167.5,"g":324.5,"r":324.5},{"t":1172.5,"g":326,"r":326},{"t":1177.5,"g":327,"r":327},{"t":1182.5,"g":325,"r":325},{"t":1187.5,"g":326.5,"r":326.5},{"t":1192.5,"g":324.5,"r":324.5},{"t":1197.5,"g":326,"r":326}
],
"h": [
{"t":700,"g":232,"r":232},{"t":705,"g":225,"r":225},{"t":710,"g":230,"r":230},{"t":715,"g":222,"r":222},{"t":720,"g":229,"r":229},{"t":725,"g":227,"r":227},{"t":730,"g":231,"r":231},{"t":735,"g":224,"r":224},{"t":740,"g":229,"r":229},{"t":745,"g":236,"r":236},
{"t":750,"g":222,"r":225},{"t":755,"g":228,"r":228},{"t":760,"g":230,"r":230},{"t":765,"g":227,"r":227},{"t":770,"g":229,"r":229},{"t":775,"g":228,"r":228},{"t":780,"g":232,"r":232},{"t":785,"g":226,"r":226},{"t":790,"g":233,"r":229},{"t":795,"g":225,"r":225},
{"t":800,"g":232,"r":232},{"t":805,"g":227,"r":227},{"t":810,"g":212,"r":230},{"t":815,"g":205,"r":226},{"t":820,"g":211,"r":220},{"t":825,"g":232,"r":232},{"t":830,"g":238,"r":238},{"t":835,"g":230,"r":230},{"t":840,"g":233,"r":233},{"t":845,"g":225,"r":225},
{"t":850,"g":229,"r":229},{"t":855,"g":232,"r":232},{"t":860,"g":240,"r":240},{"t":865,"g":249,"r":245},{"t":870,"g":236,"r":236},{"t":875,"g":248,"r":248},{"t":880,"g":238,"r":238},{"t":885,"g":243,"r":243},{"t":890,"g":235,"r":235},{"t":895,"g":241,"r":241},
{"t":900,"g":228,"r":228},{"t":905,"g":240,"r":240},{"t":910,"g":236,"r":236},{"t":915,"g":242,"r":242},{"t":920,"g":235,"r":235},{"t":925,"g":239,"r":239},{"t":930,"g":242,"r":242},{"t":935,"g":238,"r":238},{"t":940,"g":245,"r":245},{"t":945,"g":240,"r":240},
{"t":950,"g":247,"r":247},{"t":955,"g":250,"r":250},{"t":960,"g":238,"r":238},{"t":965,"g":233,"r":243},{"t":970,"g":234,"r":234},{"t":975,"g":240,"r":240},{"t":980,"g":236,"r":236},{"t":985,"g":239,"r":239},{"t":990,"g":233,"r":233},{"t":995,"g":237,"r":237},
{"t":1000,"g":231,"r":231},{"t":1005,"g":227,"r":229},{"t":1010,"g":236,"r":236},{"t":1015,"g":232,"r":232},{"t":1020,"g":238,"r":238},{"t":1025,"g":234,"r":234},{"t":1030,"g":239,"r":239},{"t":1035,"g":236,"r":236},{"t":1040,"g":241,"r":241},{"t":1045,"g":244,"r":244},
{"t":1050,"g":238,"r":238},{"t":1055,"g":248,"r":248},{"t":1060,"g":240,"r":240},{"t":1065,"g":243,"r":243},{"t":1070,"g":237,"r":237},{"t":1075,"g":245,"r":245},{"t":1080,"g":240,"r":240},{"t":1085,"g":236,"r":236},{"t":1090,"g":242,"r":242},{"t":1095,"g":238,"r":238},
{"t":1100,"g":235,"r":235},{"t":1105,"g":240,"r":240},{"t":1110,"g":236,"r":236},{"t":1115,"g":238,"r":238},{"t":1120,"g":224,"r":240},{"t":1125,"g":216,"r":237},{"t":1130,"g":219,"r":244},{"t":1135,"g":249,"r":249},{"t":1140,"g":243,"r":243},{"t":1145,"g":236,"r":236},
{"t":1150,"g":242,"r":242},{"t":1155,"g":232,"r":232},{"t":1160,"g":245,"r":245},{"t":1165,"g":254,"r":254},{"t":1170,"g":238,"r":238},{"t":1175,"g":252,"r":252},{"t":1180,"g":240,"r":240},{"t":1185,"g":244,"r":244},{"t":1190,"g":238,"r":238},{"t":1195,"g":242,"r":242},{"t":1200,"g":240,"r":240},
{"t":702.5,"g":227,"r":227},{"t":707.5,"g":228,"r":228},{"t":712.5,"g":225,"r":225},{"t":717.5,"g":230,"r":230},{"t":722.5,"g":224,"r":224},{"t":727.5,"g":232,"r":232},{"t":732.5,"g":226,"r":226},{"t":737.5,"g":230,"r":230},{"t":742.5,"g":233,"r":233},{"t":747.5,"g":227,"r":227},
{"t":752.5,"g":231,"r":231},{"t":757.5,"g":224,"r":224},{"t":762.5,"g":226,"r":226},{"t":767.5,"g":231,"r":231},{"t":772.5,"g":226,"r":226},{"t":777.5,"g":231,"r":231},{"t":782.5,"g":228,"r":228},{"t":787.5,"g":231,"r":231},{"t":792.5,"g":224,"r":224},{"t":797.5,"g":230,"r":230},
{"t":802.5,"g":226,"r":226},{"t":807.5,"g":225,"r":232},{"t":812.5,"g":208,"r":224},{"t":817.5,"g":207,"r":229},{"t":822.5,"g":226,"r":226},{"t":827.5,"g":230,"r":230},{"t":832.5,"g":234,"r":234},{"t":837.5,"g":236,"r":236},{"t":842.5,"g":228,"r":228},{"t":847.5,"g":231,"r":231},
{"t":852.5,"g":222,"r":222},{"t":857.5,"g":236,"r":236},{"t":862.5,"g":247,"r":247},{"t":867.5,"g":238,"r":238},{"t":872.5,"g":244,"r":244},{"t":877.5,"g":240,"r":240},{"t":882.5,"g":236,"r":236},{"t":887.5,"g":240,"r":240},{"t":892.5,"g":243,"r":243},{"t":897.5,"g":234,"r":234},
{"t":902.5,"g":237,"r":237},{"t":907.5,"g":234,"r":234},{"t":912.5,"g":240,"r":240},{"t":917.5,"g":237,"r":237},{"t":922.5,"g":242,"r":242},{"t":927.5,"g":236,"r":236},{"t":932.5,"g":239,"r":239},{"t":937.5,"g":243,"r":243},{"t":942.5,"g":238,"r":238},{"t":947.5,"g":244,"r":244},
{"t":952.5,"g":242,"r":242},{"t":957.5,"g":244,"r":244},{"t":962.5,"g":240,"r":240},{"t":967.5,"g":236,"r":236},{"t":972.5,"g":242,"r":242},{"t":977.5,"g":233,"r":233},{"t":982.5,"g":240,"r":240},{"t":987.5,"g":235,"r":235},{"t":992.5,"g":240,"r":240},{"t":997.5,"g":232,"r":232},
{"t":1002.5,"g":234,"r":234},{"t":1007.5,"g":233,"r":233},{"t":1012.5,"g":230,"r":230},{"t":1017.5,"g":237,"r":237},{"t":1022.5,"g":233,"r":233},{"t":1027.5,"g":238,"r":238},{"t":1032.5,"g":234,"r":234},{"t":1037.5,"g":240,"r":240},{"t":1042.5,"g":238,"r":238},{"t":1047.5,"g":240,"r":240},
{"t":1052.5,"g":245,"r":245},{"t":1057.5,"g":240,"r":240},{"t":1062.5,"g":246,"r":246},{"t":1067.5,"g":240,"r":240},{"t":1072.5,"g":243,"r":243},{"t":1077.5,"g":238,"r":238},{"t":1082.5,"g":244,"r":244},{"t":1087.5,"g":240,"r":240},{"t":1092.5,"g":236,"r":236},{"t":1097.5,"g":242,"r":242},
{"t":1102.5,"g":239,"r":239},{"t":1107.5,"g":236,"r":236},{"t":1112.5,"g":241,"r":241},{"t":1117.5,"g":235,"r":235},{"t":1122.5,"g":218,"r":243},{"t":1127.5,"g":222,"r":240},{"t":1132.5,"g":248,"r":248},{"t":1137.5,"g":244,"r":244},{"t":1142.5,"g":240,"r":240},{"t":1147.5,"g":244,"r":244},
{"t":1152.5,"g":238,"r":238},{"t":1157.5,"g":246,"r":246},{"t":1162.5,"g":250,"r":250},{"t":1167.5,"g":243,"r":243},{"t":1172.5,"g":246,"r":246},{"t":1177.5,"g":245,"r":245},{"t":1182.5,"g":246,"r":246},{"t":1187.5,"g":240,"r":240},{"t":1192.5,"g":244,"r":244},{"t":1197.5,"g":238,"r":238}
],
"wbox": [{"t":804,"y":317.5,"lo":312.5,"hi":322.5,"c":319.3},{"t":1114,"y":319.8,"lo":314.5,"hi":325,"c":330.7}],
"hbox": [{"t":803,"y":244.5,"lo":239.5,"hi":249.5,"c":219},{"t":1113,"y":257.5,"lo":252.5,"hi":263,"c":259}]
},
"vconcat": [
{
"title": {"text": "a", "anchor": "start", "frame": "bounds", "offset": 8, "dx": -14, "fontSize": 34, "fontWeight": "bold"},
"spacing": 18.5,
"vconcat": [
{"bounds": "flush", "spacing": 178, "hconcat": [
{"width": 506, "height": 219, "data": {"name": "ts"},
 "title": {"text": "Reconciled & Measurement", "offset": -8.5, "frame": "group", "anchor": "middle"},
 "resolve": {"axis": {"x": "independent", "y": "independent"}},
 "layer": [
 {"mark": {"type": "line", "stroke": "#2f64c0", "strokeWidth": 4.5},
  "encoding": {
   "x": {"field": "t", "type": "quantitative", "scale": {"domain": [700, 1200], "nice": false, "zero": false},
    "axis": {"title": null, "values": [700,720,740,760,780,800,820,840,860,880,900,920,940,960,980,1000,1020,1040,1060,1080,1100,1120,1140,1160,1180,1200], "labelOverlap": false, "labelExpr": "datum.value % 100 === 0 ? '' + datum.value : ''", "labelPadding": 20,
     "gridDash": {"condition": {"test": "datum.value % 100 === 0", "value": [10, 0]}, "value": [1.5, 5]},
     "gridColor": {"condition": {"test": "datum.value % 100 === 0", "value": "#d2d2d2"}, "value": "#9a9a9a"}}},
   "y": {"field": "m", "type": "quantitative", "title": "TS (rpm)", "scale": {"domain": [28, 32], "nice": false, "zero": false},
    "axis": {"values": [28,28.5,29,29.5,30,30.5,31,31.5,32], "labelOverlap": false, "labelExpr": "datum.value % 2 === 0 ? '' + datum.value : ''", "labelPadding": 16, "titleX": -63.5,
     "gridDash": {"condition": {"test": "datum.value % 2 === 0", "value": [10, 0]}, "value": [1.5, 5]},
     "gridColor": {"condition": {"test": "datum.value % 2 === 0", "value": "#d2d2d2"}, "value": "#9a9a9a"}}}}},
 {"mark": {"type": "line", "stroke": "#76a82a", "strokeWidth": 6.5, "strokeDash": [8, 4, 2, 4]},
  "encoding": {"x": {"field": "t", "type": "quantitative", "axis": null}, "y": {"field": "g", "type": "quantitative", "axis": null}}},
 {"mark": {"type": "line", "stroke": "#8e05b5", "strokeWidth": 5.5, "strokeDash": [12, 4]},
  "encoding": {"x": {"field": "t", "type": "quantitative", "axis": null}, "y": {"field": "r", "type": "quantitative", "axis": null}}}
 ]},
{"width": 503, "height": 219, "data": {"name": "pass1"},
 "title": {"text": "Measurement Test", "offset": -8.5, "frame": "group", "anchor": "middle"},
 "mark": {"type": "line", "stroke": "#8e05b5", "strokeWidth": 5, "strokeDash": [24, 10, 5, 10]},
 "encoding": {
  "x": {"field": "t", "type": "quantitative", "scale": {"domain": [700, 1200], "nice": false, "zero": false},
   "axis": {"title": null, "values": [700,720,740,760,780,800,820,840,860,880,900,920,940,960,980,1000,1020,1040,1060,1080,1100,1120,1140,1160,1180,1200], "labelOverlap": false, "labelExpr": "datum.value % 100 === 0 ? '' + datum.value : ''", "labelPadding": 20,
    "gridDash": {"condition": {"test": "datum.value % 100 === 0", "value": [10, 0]}, "value": [1.5, 5]},
    "gridColor": {"condition": {"test": "datum.value % 100 === 0", "value": "#d2d2d2"}, "value": "#9a9a9a"}}},
  "y": {"field": "p", "type": "quantitative", "title": "TS Pass", "scale": {"domain": [0, 1], "nice": false, "zero": false},
   "axis": {"values": [0,0.1,0.2,0.3,0.4,0.5,0.6,0.7,0.8,0.9,1], "labelOverlap": false, "labelExpr": "datum.value % 0.5 === 0 ? '' + datum.value : ''", "labelPadding": 16, "titleX": -83,
    "gridDash": {"condition": {"test": "datum.value % 0.5 === 0", "value": [10, 0]}, "value": [1.5, 5]},
    "gridColor": {"condition": {"test": "datum.value % 0.5 === 0", "value": "#d2d2d2"}, "value": "#9a9a9a"}}}}}
]},
{"bounds": "flush", "spacing": 178, "hconcat": [
{"width": 506, "height": 219, "data": {"name": "mcf"},
 "resolve": {"axis": {"x": "independent", "y": "independent"}},
 "layer": [
 {"mark": {"type": "line", "stroke": "#2f64c0", "strokeWidth": 4.5},
  "encoding": {
   "x": {"field": "t", "type": "quantitative", "scale": {"domain": [700, 1200], "nice": false, "zero": false},
    "axis": {"title": null, "values": [700,720,740,760,780,800,820,840,860,880,900,920,940,960,980,1000,1020,1040,1060,1080,1100,1120,1140,1160,1180,1200], "labelOverlap": false, "labelExpr": "datum.value % 100 === 0 ? '' + datum.value : ''", "labelPadding": 20,
     "gridDash": {"condition": {"test": "datum.value % 100 === 0", "value": [10, 0]}, "value": [1.5, 5]},
     "gridColor": {"condition": {"test": "datum.value % 100 === 0", "value": "#d2d2d2"}, "value": "#9a9a9a"}}},
   "y": {"field": "m", "type": "quantitative", "title": "MCF (kN)", "scale": {"domain": [10, 12], "nice": false, "zero": false},
    "axis": {"values": [10,10.2,10.4,10.6,10.8,11,11.2,11.4,11.6,11.8,12], "labelOverlap": false, "labelExpr": "datum.value % 1 === 0 ? '' + datum.value : ''", "labelPadding": 16, "titleX": -63.5,
     "gridDash": {"condition": {"test": "datum.value % 1 === 0", "value": [10, 0]}, "value": [1.5, 5]},
     "gridColor": {"condition": {"test": "datum.value % 1 === 0", "value": "#d2d2d2"}, "value": "#9a9a9a"}}}}},
 {"mark": {"type": "line", "stroke": "#76a82a", "strokeWidth": 6.5, "strokeDash": [8, 4, 2, 4]},
  "encoding": {"x": {"field": "t", "type": "quantitative", "axis": null}, "y": {"field": "g", "type": "quantitative", "axis": null}}},
 {"mark": {"type": "line", "stroke": "#8e05b5", "strokeWidth": 5.5, "strokeDash": [12, 4]},
  "encoding": {"x": {"field": "t", "type": "quantitative", "axis": null}, "y": {"field": "r", "type": "quantitative", "axis": null}}}
 ]},
{"width": 503, "height": 219, "data": {"name": "pass1"},
 "mark": {"type": "line", "stroke": "#8e05b5", "strokeWidth": 5, "strokeDash": [24, 10, 5, 10]},
 "encoding": {
  "x": {"field": "t", "type": "quantitative", "scale": {"domain": [700, 1200], "nice": false, "zero": false},
   "axis": {"title": null, "values": [700,720,740,760,780,800,820,840,860,880,900,920,940,960,980,1000,1020,1040,1060,1080,1100,1120,1140,1160,1180,1200], "labelOverlap": false, "labelExpr": "datum.value % 100 === 0 ? '' + datum.value : ''", "labelPadding": 20,
    "gridDash": {"condition": {"test": "datum.value % 100 === 0", "value": [10, 0]}, "value": [1.5, 5]},
    "gridColor": {"condition": {"test": "datum.value % 100 === 0", "value": "#d2d2d2"}, "value": "#9a9a9a"}}},
  "y": {"field": "p", "type": "quantitative", "title": "MCF Pass", "scale": {"domain": [0, 1], "nice": false, "zero": false},
   "axis": {"values": [0,0.1,0.2,0.3,0.4,0.5,0.6,0.7,0.8,0.9,1], "labelOverlap": false, "labelExpr": "datum.value % 0.5 === 0 ? '' + datum.value : ''", "labelPadding": 16, "titleX": -83,
    "gridDash": {"condition": {"test": "datum.value % 0.5 === 0", "value": [10, 0]}, "value": [1.5, 5]},
    "gridColor": {"condition": {"test": "datum.value % 0.5 === 0", "value": "#d2d2d2"}, "value": "#9a9a9a"}}}}}
]},
{"bounds": "flush", "spacing": 178, "hconcat": [
{"width": 506, "height": 219, "data": {"name": "fo"},
 "resolve": {"axis": {"x": "independent", "y": "independent"}},
 "layer": [
 {"mark": {"type": "line", "stroke": "#2f64c0", "strokeWidth": 4.5, "clip": true},
  "encoding": {
   "x": {"field": "t", "type": "quantitative", "scale": {"domain": [700, 1200], "nice": false, "zero": false},
    "axis": {"title": "Time (s)", "titlePadding": 10, "values": [700,720,740,760,780,800,820,840,860,880,900,920,940,960,980,1000,1020,1040,1060,1080,1100,1120,1140,1160,1180,1200], "labelOverlap": false, "labelExpr": "datum.value % 100 === 0 ? '' + datum.value : ''", "labelPadding": 20,
     "gridDash": {"condition": {"test": "datum.value % 100 === 0", "value": [10, 0]}, "value": [1.5, 5]},
     "gridColor": {"condition": {"test": "datum.value % 100 === 0", "value": "#d2d2d2"}, "value": "#9a9a9a"}}},
   "y": {"field": "m", "type": "quantitative", "title": "Fout,TP (kg/h)", "scale": {"domain": [8, 10], "nice": false, "zero": false},
    "axis": {"values": [8,8.2,8.4,8.6,8.8,9,9.2,9.4,9.6,9.8,10], "labelOverlap": false, "labelExpr": "datum.value % 1 === 0 ? '' + datum.value : ''", "labelPadding": 16, "titleX": -63.5,
     "gridDash": {"condition": {"test": "datum.value % 1 === 0", "value": [10, 0]}, "value": [1.5, 5]},
     "gridColor": {"condition": {"test": "datum.value % 1 === 0", "value": "#d2d2d2"}, "value": "#9a9a9a"}}}}},
 {"mark": {"type": "line", "stroke": "#76a82a", "strokeWidth": 6.5, "strokeDash": [8, 4, 2, 4]},
  "encoding": {"x": {"field": "t", "type": "quantitative", "axis": null}, "y": {"field": "g", "type": "quantitative", "axis": null}}},
 {"mark": {"type": "line", "stroke": "#8e05b5", "strokeWidth": 5.5, "strokeDash": [12, 4]},
  "encoding": {"x": {"field": "t", "type": "quantitative", "axis": null}, "y": {"field": "r", "type": "quantitative", "axis": null}}}
 ]},
{"width": 503, "height": 219, "data": {"name": "passfo"},
 "mark": {"type": "line", "stroke": "#8e05b5", "strokeWidth": 5, "strokeDash": [24, 10, 5, 10]},
 "encoding": {
  "x": {"field": "t", "type": "quantitative", "scale": {"domain": [700, 1200], "nice": false, "zero": false},
   "axis": {"title": "Time (s)", "titlePadding": 10, "values": [700,720,740,760,780,800,820,840,860,880,900,920,940,960,980,1000,1020,1040,1060,1080,1100,1120,1140,1160,1180,1200], "labelOverlap": false, "labelExpr": "datum.value % 100 === 0 ? '' + datum.value : ''", "labelPadding": 20,
    "gridDash": {"condition": {"test": "datum.value % 100 === 0", "value": [10, 0]}, "value": [1.5, 5]},
    "gridColor": {"condition": {"test": "datum.value % 100 === 0", "value": "#d2d2d2"}, "value": "#9a9a9a"}}},
  "y": {"field": "p", "type": "quantitative", "title": "Fout,TP Pass", "scale": {"domain": [0, 1], "nice": false, "zero": false},
   "axis": {"values": [0,0.1,0.2,0.3,0.4,0.5,0.6,0.7,0.8,0.9,1], "labelOverlap": false, "labelExpr": "datum.value % 0.5 === 0 ? '' + datum.value : ''", "labelPadding": 16, "titleX": -83,
    "gridDash": {"condition": {"test": "datum.value % 0.5 === 0", "value": [10, 0]}, "value": [1.5, 5]},
    "gridColor": {"condition": {"test": "datum.value % 0.5 === 0", "value": "#d2d2d2"}, "value": "#9a9a9a"}}}}}
]}
]
},
{
"title": {"text": "b", "anchor": "start", "frame": "bounds", "offset": 0, "dx": -14, "fontSize": 34, "fontWeight": "bold"},
"spacing": 19,
"vconcat": [
{"width": 1185, "height": 346, "data": {"name": "fl"},
 "resolve": {"axis": {"x": "independent", "y": "independent"}},
 "layer": [
 {"mark": {"type": "line", "stroke": "#76a82a", "strokeWidth": 6.5, "strokeDash": [8, 4, 2, 4]},
  "encoding": {
   "x": {"field": "t", "type": "quantitative", "scale": {"domain": [700, 1200], "nice": false, "zero": false},
    "axis": {"title": "Time (s)", "titlePadding": 10, "values": [700,720,740,760,780,800,820,840,860,880,900,920,940,960,980,1000,1020,1040,1060,1080,1100,1120,1140,1160,1180,1200], "labelOverlap": false, "labelExpr": "datum.value % 100 === 0 ? '' + datum.value : ''", "labelPadding": 21,
     "gridDash": {"condition": {"test": "datum.value % 100 === 0", "value": [10, 0]}, "value": [1.5, 5]},
     "gridColor": {"condition": {"test": "datum.value % 100 === 0", "value": "#d2d2d2"}, "value": "#9a9a9a"}}},
   "y": {"field": "g", "type": "quantitative", "title": "FL (kg/h)", "scale": {"domain": [0, 2], "nice": false, "zero": false},
    "axis": {"values": [0,0.1,0.2,0.3,0.4,0.5,0.6,0.7,0.8,0.9,1,1.1,1.2,1.3,1.4,1.5,1.6,1.7,1.8,1.9,2], "labelOverlap": false, "labelExpr": "datum.value % 0.5 === 0 ? '' + datum.value : ''", "labelPadding": 16, "titleX": -75,
     "gridDash": {"condition": {"test": "datum.value % 0.5 === 0", "value": [10, 0]}, "value": [1.5, 5]},
     "gridColor": {"condition": {"test": "datum.value % 0.5 === 0", "value": "#d2d2d2"}, "value": "#9a9a9a"}}}}},
 {"mark": {"type": "line", "stroke": "#8e05b5", "strokeWidth": 5.5, "strokeDash": [12, 4]},
  "encoding": {"x": {"field": "t", "type": "quantitative", "axis": null}, "y": {"field": "r", "type": "quantitative", "axis": null}}}
 ]},
{"bounds": "flush", "spacing": 169, "hconcat": [
{"width": 507, "height": 346,
 "resolve": {"axis": {"x": "independent", "y": "independent"}},
 "layer": [
 {"data": {"name": "w"}, "mark": {"type": "line", "stroke": "#76a82a", "strokeWidth": 7, "strokeDash": [8, 4, 2, 4]},
  "encoding": {
   "x": {"field": "t", "type": "quantitative", "scale": {"domain": [700, 1200], "nice": false, "zero": false},
    "axis": {"title": "Time (s)", "titlePadding": 10, "values": [700,720,740,760,780,800,820,840,860,880,900,920,940,960,980,1000,1020,1040,1060,1080,1100,1120,1140,1160,1180,1200], "labelOverlap": false, "labelExpr": "datum.value % 100 === 0 ? '' + datum.value : ''", "labelPadding": 21,
     "gridDash": {"condition": {"test": "datum.value % 100 === 0", "value": [10, 0]}, "value": [1.5, 5]},
     "gridColor": {"condition": {"test": "datum.value % 100 === 0", "value": "#d2d2d2"}, "value": "#9a9a9a"}}},
   "y": {"field": "g", "type": "quantitative", "title": "W (mg)", "scale": {"domain": [300, 350], "nice": false, "zero": false},
    "axis": {"values": [300,302,304,306,308,310,312,314,316,318,320,322,324,326,328,330,332,334,336,338,340,342,344,346,348,350], "labelOverlap": false, "labelExpr": "datum.value % 10 === 0 ? '' + datum.value : ''", "labelPadding": 9, "titleX": -72,
     "gridDash": {"condition": {"test": "datum.value % 10 === 0", "value": [10, 0]}, "value": [1.5, 5]},
     "gridColor": {"condition": {"test": "datum.value % 10 === 0", "value": "#d2d2d2"}, "value": "#9a9a9a"}}}}},
 {"data": {"name": "w"}, "mark": {"type": "line", "stroke": "#8e05b5", "strokeWidth": 6.5, "strokeDash": [12, 4]},
  "encoding": {"x": {"field": "t", "type": "quantitative", "axis": null}, "y": {"field": "r", "type": "quantitative", "axis": null}}},
 {"data": {"name": "wbox"}, "mark": {"type": "rule", "stroke": "#c8462c", "strokeWidth": 2},
  "encoding": {"x": {"field": "t", "type": "quantitative", "axis": null}, "y": {"field": "lo", "type": "quantitative", "axis": null}, "y2": {"field": "hi"}}},
 {"data": {"name": "wbox"}, "mark": {"type": "tick", "orient": "horizontal", "color": "#c8462c", "size": 24, "thickness": 2},
  "encoding": {"x": {"field": "t", "type": "quantitative", "axis": null}, "y": {"field": "lo", "type": "quantitative", "axis": null}}},
 {"data": {"name": "wbox"}, "mark": {"type": "tick", "orient": "horizontal", "color": "#c8462c", "size": 24, "thickness": 2},
  "encoding": {"x": {"field": "t", "type": "quantitative", "axis": null}, "y": {"field": "hi", "type": "quantitative", "axis": null}}},
 {"data": {"name": "wbox"}, "mark": {"type": "point", "shape": "square", "size": 270, "filled": true, "fill": "#7fe6f4", "stroke": "#2f6fd0", "strokeWidth": 1.5, "opacity": 1},
  "encoding": {"x": {"field": "t", "type": "quantitative", "axis": null}, "y": {"field": "c", "type": "quantitative", "axis": null}}},
 {"data": {"name": "wbox"}, "mark": {"type": "tick", "orient": "horizontal", "color": "#2f6fd0", "size": 26, "thickness": 1.5},
  "encoding": {"x": {"field": "t", "type": "quantitative", "axis": null}, "y": {"field": "c", "type": "quantitative", "axis": null}}},
 {"data": {"name": "wbox"}, "mark": {"type": "point", "shape": "square", "size": 290, "filled": true, "fill": "#fff02a", "stroke": "#d04a20", "strokeWidth": 1.5, "opacity": 1},
  "encoding": {"x": {"field": "t", "type": "quantitative", "axis": null}, "y": {"field": "y", "type": "quantitative", "axis": null}}}
 ]},
{"width": 501, "height": 346,
 "resolve": {"axis": {"x": "independent", "y": "independent"}},
 "layer": [
 {"data": {"name": "h"}, "mark": {"type": "line", "stroke": "#76a82a", "strokeWidth": 7, "strokeDash": [8, 4, 2, 4]},
  "encoding": {
   "x": {"field": "t", "type": "quantitative", "scale": {"domain": [700, 1200], "nice": false, "zero": false},
    "axis": {"title": "Time (s)", "titlePadding": 10, "values": [700,720,740,760,780,800,820,840,860,880,900,920,940,960,980,1000,1020,1040,1060,1080,1100,1120,1140,1160,1180,1200], "labelOverlap": false, "labelExpr": "datum.value % 100 === 0 ? '' + datum.value : ''", "labelPadding": 21,
     "gridDash": {"condition": {"test": "datum.value % 100 === 0", "value": [10, 0]}, "value": [1.5, 5]},
     "gridColor": {"condition": {"test": "datum.value % 100 === 0", "value": "#d2d2d2"}, "value": "#9a9a9a"}}},
   "y": {"field": "g", "type": "quantitative", "title": "H (N)", "scale": {"domain": [200, 300], "nice": false, "zero": false},
    "axis": {"values": [200,210,220,230,240,250,260,270,280,290,300], "labelOverlap": false, "labelExpr": "datum.value % 50 === 0 ? '' + datum.value : ''", "labelPadding": 14, "titleX": -81.5,
     "gridDash": {"condition": {"test": "datum.value % 50 === 0", "value": [10, 0]}, "value": [1.5, 5]},
     "gridColor": {"condition": {"test": "datum.value % 50 === 0", "value": "#d2d2d2"}, "value": "#9a9a9a"}}}}},
 {"data": {"name": "h"}, "mark": {"type": "line", "stroke": "#8e05b5", "strokeWidth": 6.5, "strokeDash": [12, 4]},
  "encoding": {"x": {"field": "t", "type": "quantitative", "axis": null}, "y": {"field": "r", "type": "quantitative", "axis": null}}},
 {"data": {"name": "hbox"}, "mark": {"type": "rule", "stroke": "#c8462c", "strokeWidth": 2},
  "encoding": {"x": {"field": "t", "type": "quantitative", "axis": null}, "y": {"field": "lo", "type": "quantitative", "axis": null}, "y2": {"field": "hi"}}},
 {"data": {"name": "hbox"}, "mark": {"type": "tick", "orient": "horizontal", "color": "#c8462c", "size": 24, "thickness": 2},
  "encoding": {"x": {"field": "t", "type": "quantitative", "axis": null}, "y": {"field": "lo", "type": "quantitative", "axis": null}}},
 {"data": {"name": "hbox"}, "mark": {"type": "tick", "orient": "horizontal", "color": "#c8462c", "size": 24, "thickness": 2},
  "encoding": {"x": {"field": "t", "type": "quantitative", "axis": null}, "y": {"field": "hi", "type": "quantitative", "axis": null}}},
 {"data": {"name": "hbox"}, "mark": {"type": "point", "shape": "square", "size": 270, "filled": true, "fill": "#7fe6f4", "stroke": "#2f6fd0", "strokeWidth": 1.5, "opacity": 1},
  "encoding": {"x": {"field": "t", "type": "quantitative", "axis": null}, "y": {"field": "c", "type": "quantitative", "axis": null}}},
 {"data": {"name": "hbox"}, "mark": {"type": "tick", "orient": "horizontal", "color": "#2f6fd0", "size": 26, "thickness": 1.5},
  "encoding": {"x": {"field": "t", "type": "quantitative", "axis": null}, "y": {"field": "c", "type": "quantitative", "axis": null}}},
 {"data": {"name": "hbox"}, "mark": {"type": "point", "shape": "square", "size": 290, "filled": true, "fill": "#fff02a", "stroke": "#d04a20", "strokeWidth": 1.5, "opacity": 1},
  "encoding": {"x": {"field": "t", "type": "quantitative", "axis": null}, "y": {"field": "y", "type": "quantitative", "axis": null}}}
 ]}
]}
]
}
],
"config": {
 "font": "DejaVu Sans",
 "background": "#ffffff",
 "view": {"stroke": "#000000", "strokeWidth": 1.6},
 "axis": {"labelFont": "DejaVu Sans", "labelFontSize": 33, "labelColor": "#000000", "titleFont": "DejaVu Sans", "titleFontSize": 33, "titleFontWeight": "normal", "titleColor": "#000000", "ticks": false, "domain": false, "grid": true, "gridWidth": 1.3, "labelFlush": false, "labelOverlap": false},
 "title": {"font": "DejaVu Sans", "fontSize": 34, "fontWeight": "bold", "color": "#000000"}
}
}
